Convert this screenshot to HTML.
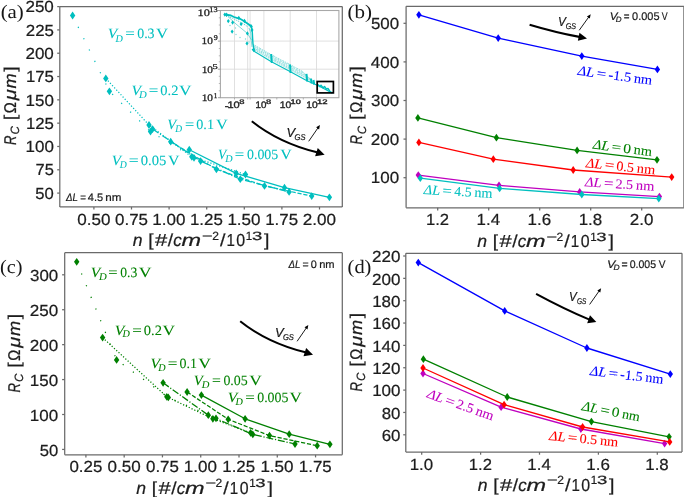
<!DOCTYPE html>
<html><head><meta charset="utf-8"><style>
html,body{margin:0;padding:0;background:#fff;width:685px;height:497px;overflow:hidden}
svg{display:block;will-change:transform}
text{text-rendering:geometricPrecision}
.t{stroke:#1c1c1c;stroke-width:0.22px}
</style></head><body>
<svg width="685" height="497" viewBox="0 0 685 497">
<defs><filter id="bl" x="0" y="0" width="1" height="1"><feGaussianBlur stdDeviation="0.35"/></filter></defs>
<rect width="685" height="497" fill="#fff"/>
<g filter="url(#bl)">
<polyline points="418.90,14.80 498.20,38.10 581.80,56.10 657.40,69.40" fill="none" stroke="#0000ff" stroke-width="1.35" stroke-linejoin="round" stroke-linecap="butt" />
<path d="M418.90,10.90L421.60,14.80L418.90,18.70L416.20,14.80Z" fill="#0000ff"/>
<path d="M498.20,34.20L500.90,38.10L498.20,42.00L495.50,38.10Z" fill="#0000ff"/>
<path d="M581.80,52.20L584.50,56.10L581.80,60.00L579.10,56.10Z" fill="#0000ff"/>
<path d="M657.40,65.50L660.10,69.40L657.40,73.30L654.70,69.40Z" fill="#0000ff"/>
<polyline points="417.90,117.90 496.40,137.70 577.10,150.40 657.00,159.80" fill="none" stroke="#008000" stroke-width="1.35" stroke-linejoin="round" stroke-linecap="butt" />
<path d="M417.90,114.00L420.60,117.90L417.90,121.80L415.20,117.90Z" fill="#008000"/>
<path d="M496.40,133.80L499.10,137.70L496.40,141.60L493.70,137.70Z" fill="#008000"/>
<path d="M577.10,146.50L579.80,150.40L577.10,154.30L574.40,150.40Z" fill="#008000"/>
<path d="M657.00,155.90L659.70,159.80L657.00,163.70L654.30,159.80Z" fill="#008000"/>
<polyline points="418.90,142.40 493.30,159.20 573.20,170.00 671.70,177.10" fill="none" stroke="#ff0000" stroke-width="1.35" stroke-linejoin="round" stroke-linecap="butt" />
<path d="M418.90,138.50L421.60,142.40L418.90,146.30L416.20,142.40Z" fill="#ff0000"/>
<path d="M493.30,155.30L496.00,159.20L493.30,163.10L490.60,159.20Z" fill="#ff0000"/>
<path d="M573.20,166.10L575.90,170.00L573.20,173.90L570.50,170.00Z" fill="#ff0000"/>
<path d="M671.70,173.20L674.40,177.10L671.70,181.00L669.00,177.10Z" fill="#ff0000"/>
<polyline points="418.30,175.10 499.00,185.30 579.70,191.90 659.40,196.60" fill="none" stroke="#bf00bf" stroke-width="1.35" stroke-linejoin="round" stroke-linecap="butt" />
<path d="M418.30,171.20L421.00,175.10L418.30,179.00L415.60,175.10Z" fill="#bf00bf"/>
<path d="M499.00,181.40L501.70,185.30L499.00,189.20L496.30,185.30Z" fill="#bf00bf"/>
<path d="M579.70,188.00L582.40,191.90L579.70,195.80L577.00,191.90Z" fill="#bf00bf"/>
<path d="M659.40,192.70L662.10,196.60L659.40,200.50L656.70,196.60Z" fill="#bf00bf"/>
<polyline points="420.30,178.20 499.60,188.40 581.80,194.50 658.80,198.60" fill="none" stroke="#00bfbf" stroke-width="1.35" stroke-linejoin="round" stroke-linecap="butt" />
<path d="M420.30,174.30L423.00,178.20L420.30,182.10L417.60,178.20Z" fill="#00bfbf"/>
<path d="M499.60,184.50L502.30,188.40L499.60,192.30L496.90,188.40Z" fill="#00bfbf"/>
<path d="M581.80,190.60L584.50,194.50L581.80,198.40L579.10,194.50Z" fill="#00bfbf"/>
<path d="M658.80,194.70L661.50,198.60L658.80,202.50L656.10,198.60Z" fill="#00bfbf"/>
<g transform="translate(576.90,74.80) rotate(7.645)"><text x="0.48" y="0" font-family='"Liberation Serif", serif' font-size="13.6" fill="#0000ff" stroke="#0000ff" stroke-width="0.08" textLength="16.67" lengthAdjust="spacingAndGlyphs"><tspan font-style="italic" font-size="13.60">ΔL</tspan></text></g>
<g transform="translate(597.13,77.52) rotate(7.645)"><text x="-0.84" y="0" font-family='"Liberation Serif", serif' font-size="13.6" fill="#0000ff" stroke="#0000ff" stroke-width="0.08" textLength="9.55" lengthAdjust="spacingAndGlyphs"><tspan font-style="normal" font-size="13.60">=</tspan></text></g>
<g transform="translate(608.44,79.03) rotate(7.645)"><text x="-0.53" y="0" font-family='"Liberation Serif", serif' font-size="13.6" fill="#0000ff" stroke="#0000ff" stroke-width="0.08" textLength="22.82" lengthAdjust="spacingAndGlyphs"><tspan font-style="normal" font-size="13.60">-1.5</tspan></text></g>
<g transform="translate(633.78,82.43) rotate(7.645)"><text x="-0.33" y="0" font-family='"Liberation Serif", serif' font-size="13.6" fill="#0000ff" stroke="#0000ff" stroke-width="0.08" textLength="18.34" lengthAdjust="spacingAndGlyphs"><tspan font-style="normal" font-size="13.60">nm</tspan></text></g>
<g transform="translate(592.00,148.50) rotate(7.220)"><text x="0.48" y="0" font-family='"Liberation Serif", serif' font-size="13.6" fill="#008000" stroke="#008000" stroke-width="0.08" textLength="16.55" lengthAdjust="spacingAndGlyphs"><tspan font-style="italic" font-size="13.60">ΔL</tspan></text></g>
<g transform="translate(612.10,151.05) rotate(7.220)"><text x="-0.84" y="0" font-family='"Liberation Serif", serif' font-size="13.6" fill="#008000" stroke="#008000" stroke-width="0.08" textLength="9.48" lengthAdjust="spacingAndGlyphs"><tspan font-style="normal" font-size="13.60">=</tspan></text></g>
<g transform="translate(623.34,152.47) rotate(7.220)"><text x="-0.59" y="0" font-family='"Liberation Serif", serif' font-size="13.6" fill="#008000" stroke="#008000" stroke-width="0.08" textLength="7.81" lengthAdjust="spacingAndGlyphs"><tspan font-style="normal" font-size="13.60">0</tspan></text></g>
<g transform="translate(633.69,153.78) rotate(7.220)"><text x="-0.33" y="0" font-family='"Liberation Serif", serif' font-size="13.6" fill="#008000" stroke="#008000" stroke-width="0.08" textLength="18.20" lengthAdjust="spacingAndGlyphs"><tspan font-style="normal" font-size="13.60">nm</tspan></text></g>
<g transform="translate(585.00,167.10) rotate(5.915)"><text x="0.48" y="0" font-family='"Liberation Serif", serif' font-size="13.6" fill="#ff0000" stroke="#ff0000" stroke-width="0.08" textLength="16.64" lengthAdjust="spacingAndGlyphs"><tspan font-style="italic" font-size="13.60">ΔL</tspan></text></g>
<g transform="translate(605.26,169.20) rotate(5.915)"><text x="-0.84" y="0" font-family='"Liberation Serif", serif' font-size="13.6" fill="#ff0000" stroke="#ff0000" stroke-width="0.08" textLength="9.53" lengthAdjust="spacingAndGlyphs"><tspan font-style="normal" font-size="13.60">=</tspan></text></g>
<g transform="translate(616.59,170.37) rotate(5.915)"><text x="-0.54" y="0" font-family='"Liberation Serif", serif' font-size="13.6" fill="#ff0000" stroke="#ff0000" stroke-width="0.08" textLength="17.62" lengthAdjust="spacingAndGlyphs"><tspan font-style="normal" font-size="13.60">0.5</tspan></text></g>
<g transform="translate(636.85,172.47) rotate(5.915)"><text x="-0.33" y="0" font-family='"Liberation Serif", serif' font-size="13.6" fill="#ff0000" stroke="#ff0000" stroke-width="0.08" textLength="18.30" lengthAdjust="spacingAndGlyphs"><tspan font-style="normal" font-size="13.60">nm</tspan></text></g>
<g transform="translate(584.20,186.20) rotate(3.612)"><text x="0.48" y="0" font-family='"Liberation Serif", serif' font-size="13.6" fill="#bf00bf" stroke="#bf00bf" stroke-width="0.08" textLength="16.66" lengthAdjust="spacingAndGlyphs"><tspan font-style="italic" font-size="13.60">ΔL</tspan></text></g>
<g transform="translate(604.55,187.48) rotate(3.612)"><text x="-0.84" y="0" font-family='"Liberation Serif", serif' font-size="13.6" fill="#bf00bf" stroke="#bf00bf" stroke-width="0.08" textLength="9.54" lengthAdjust="spacingAndGlyphs"><tspan font-style="normal" font-size="13.60">=</tspan></text></g>
<g transform="translate(615.93,188.20) rotate(3.612)"><text x="-0.62" y="0" font-family='"Liberation Serif", serif' font-size="13.6" fill="#bf00bf" stroke="#bf00bf" stroke-width="0.08" textLength="17.62" lengthAdjust="spacingAndGlyphs"><tspan font-style="normal" font-size="13.60">2.5</tspan></text></g>
<g transform="translate(636.17,189.48) rotate(3.612)"><text x="-0.33" y="0" font-family='"Liberation Serif", serif' font-size="13.6" fill="#bf00bf" stroke="#bf00bf" stroke-width="0.08" textLength="18.32" lengthAdjust="spacingAndGlyphs"><tspan font-style="normal" font-size="13.60">nm</tspan></text></g>
<g transform="translate(423.10,193.90) rotate(3.323)"><text x="0.48" y="0" font-family='"Liberation Serif", serif' font-size="13.6" fill="#00bfbf" stroke="#00bfbf" stroke-width="0.08" textLength="16.37" lengthAdjust="spacingAndGlyphs"><tspan font-style="italic" font-size="13.60">ΔL</tspan></text></g>
<g transform="translate(443.10,195.06) rotate(3.323)"><text x="-0.83" y="0" font-family='"Liberation Serif", serif' font-size="13.6" fill="#00bfbf" stroke="#00bfbf" stroke-width="0.08" textLength="9.37" lengthAdjust="spacingAndGlyphs"><tspan font-style="normal" font-size="13.60">=</tspan></text></g>
<g transform="translate(454.28,195.71) rotate(3.323)"><text x="-0.27" y="0" font-family='"Liberation Serif", serif' font-size="13.6" fill="#00bfbf" stroke="#00bfbf" stroke-width="0.08" textLength="17.37" lengthAdjust="spacingAndGlyphs"><tspan font-style="normal" font-size="13.60">4.5</tspan></text></g>
<g transform="translate(474.58,196.89) rotate(3.323)"><text x="-0.32" y="0" font-family='"Liberation Serif", serif' font-size="13.6" fill="#00bfbf" stroke="#00bfbf" stroke-width="0.08" textLength="18.00" lengthAdjust="spacingAndGlyphs"><tspan font-style="normal" font-size="13.60">nm</tspan></text></g>
<path d="M529.60,24.70 Q555.40,32.40 579.40,36.90" fill="none" stroke="#000" stroke-width="2.1"/>
<path d="M587.00,38.40 L577.87,40.78 L579.45,32.73 Z" fill="#000"/>
<line x1="579.20" y1="30.30" x2="588.83" y2="16.90" stroke="#000" stroke-width="0.9"/>
<path d="M590.70,14.30 L589.83,18.60 L586.90,16.50 Z" fill="#000"/>
<g transform="translate(558.90,25.60) rotate(0.000)"><text x="-1.02" y="0" font-family='"Liberation Sans", sans-serif' font-size="13.0" fill="#1a1a1a" stroke="#1a1a1a" stroke-width="0.2" textLength="7.90" lengthAdjust="spacingAndGlyphs"><tspan font-style="italic" font-size="13.00">V</tspan></text></g>
<g transform="translate(566.00,28.60) rotate(0.000)"><text x="-0.35" y="0" font-family='"Liberation Sans", sans-serif' font-size="8.4" fill="#1a1a1a" stroke="#1a1a1a" stroke-width="0.2" textLength="10.33" lengthAdjust="spacingAndGlyphs"><tspan font-style="italic" font-size="8.40">GS</tspan></text></g>
<g transform="translate(610.80,19.80) rotate(0.000)"><text x="-1.01" y="0" font-family='"Liberation Sans", sans-serif' font-size="11.0" fill="#1a1a1a" stroke="#1a1a1a" stroke-width="0.2" textLength="7.80" lengthAdjust="spacingAndGlyphs"><tspan font-style="italic" font-size="11.00">V</tspan></text></g>
<g transform="translate(616.10,22.30) rotate(0.000)"><text x="-0.25" y="0" font-family='"Liberation Sans", sans-serif' font-size="7.699999999999999" fill="#1a1a1a" stroke="#1a1a1a" stroke-width="0.2" textLength="5.81" lengthAdjust="spacingAndGlyphs"><tspan font-style="italic" font-size="7.70">D</tspan></text></g>
<g transform="translate(624.30,19.80) rotate(0.000)"><text x="-0.48" y="0" font-family='"Liberation Sans", sans-serif' font-size="11.0" fill="#1a1a1a" stroke="#1a1a1a" stroke-width="0.2" textLength="5.77" lengthAdjust="spacingAndGlyphs"><tspan font-style="normal" font-size="11.00">=</tspan></text></g>
<g transform="translate(632.50,19.80) rotate(0.000)"><text x="-0.43" y="0" font-family='"Liberation Sans", sans-serif' font-size="11.0" fill="#1a1a1a" stroke="#1a1a1a" stroke-width="0.2" textLength="27.39" lengthAdjust="spacingAndGlyphs"><tspan font-style="normal" font-size="11.00">0.005</tspan></text></g>
<g transform="translate(661.90,19.80) rotate(0.000)"><text x="-0.04" y="0" font-family='"Liberation Sans", sans-serif' font-size="11.0" fill="#1a1a1a" stroke="#1a1a1a" stroke-width="0.2" textLength="5.88" lengthAdjust="spacingAndGlyphs"><tspan font-style="normal" font-size="11.00">V</tspan></text></g>
<g transform="translate(608.10,267.60) rotate(0.000)"><text x="-1.08" y="0" font-family='"Liberation Sans", sans-serif' font-size="11.0" fill="#1a1a1a" stroke="#1a1a1a" stroke-width="0.2" textLength="8.31" lengthAdjust="spacingAndGlyphs"><tspan font-style="italic" font-size="11.00">V</tspan></text></g>
<g transform="translate(613.80,269.60) rotate(0.000)"><text x="-0.26" y="0" font-family='"Liberation Sans", sans-serif' font-size="7.699999999999999" fill="#1a1a1a" stroke="#1a1a1a" stroke-width="0.2" textLength="6.14" lengthAdjust="spacingAndGlyphs"><tspan font-style="italic" font-size="7.70">D</tspan></text></g>
<g transform="translate(621.90,267.60) rotate(0.000)"><text x="-0.51" y="0" font-family='"Liberation Sans", sans-serif' font-size="11.0" fill="#1a1a1a" stroke="#1a1a1a" stroke-width="0.2" textLength="6.13" lengthAdjust="spacingAndGlyphs"><tspan font-style="normal" font-size="11.00">=</tspan></text></g>
<g transform="translate(630.10,267.60) rotate(0.000)"><text x="-0.41" y="0" font-family='"Liberation Sans", sans-serif' font-size="11.0" fill="#1a1a1a" stroke="#1a1a1a" stroke-width="0.2" textLength="26.35" lengthAdjust="spacingAndGlyphs"><tspan font-style="normal" font-size="11.00">0.005</tspan></text></g>
<g transform="translate(658.70,267.60) rotate(0.000)"><text x="-0.04" y="0" font-family='"Liberation Sans", sans-serif' font-size="11.0" fill="#1a1a1a" stroke="#1a1a1a" stroke-width="0.2" textLength="6.79" lengthAdjust="spacingAndGlyphs"><tspan font-style="normal" font-size="11.00">V</tspan></text></g>
<polyline points="418.30,262.60 504.70,310.90 586.90,348.00 670.30,374.10" fill="none" stroke="#0000ff" stroke-width="1.35" stroke-linejoin="round" stroke-linecap="butt" />
<path d="M418.30,258.70L421.00,262.60L418.30,266.50L415.60,262.60Z" fill="#0000ff"/>
<path d="M504.70,307.00L507.40,310.90L504.70,314.80L502.00,310.90Z" fill="#0000ff"/>
<path d="M586.90,344.10L589.60,348.00L586.90,351.90L584.20,348.00Z" fill="#0000ff"/>
<path d="M670.30,370.20L673.00,374.10L670.30,378.00L667.60,374.10Z" fill="#0000ff"/>
<polyline points="423.40,359.20 507.20,397.00 591.40,421.60 669.10,436.80" fill="none" stroke="#008000" stroke-width="1.35" stroke-linejoin="round" stroke-linecap="butt" />
<path d="M423.40,355.30L426.10,359.20L423.40,363.10L420.70,359.20Z" fill="#008000"/>
<path d="M507.20,393.10L509.90,397.00L507.20,400.90L504.50,397.00Z" fill="#008000"/>
<path d="M591.40,417.70L594.10,421.60L591.40,425.50L588.70,421.60Z" fill="#008000"/>
<path d="M669.10,432.90L671.80,436.80L669.10,440.70L666.40,436.80Z" fill="#008000"/>
<polyline points="423.00,373.50 501.10,407.20 580.90,429.00 664.60,443.60" fill="none" stroke="#bf00bf" stroke-width="1.35" stroke-linejoin="round" stroke-linecap="butt" />
<path d="M423.00,369.60L425.70,373.50L423.00,377.40L420.30,373.50Z" fill="#bf00bf"/>
<path d="M501.10,403.30L503.80,407.20L501.10,411.10L498.40,407.20Z" fill="#bf00bf"/>
<path d="M580.90,425.10L583.60,429.00L580.90,432.90L578.20,429.00Z" fill="#bf00bf"/>
<path d="M664.60,439.70L667.30,443.60L664.60,447.50L661.90,443.60Z" fill="#bf00bf"/>
<polyline points="423.00,368.00 504.10,404.70 582.60,427.00 669.70,441.90" fill="none" stroke="#ff0000" stroke-width="1.35" stroke-linejoin="round" stroke-linecap="butt" />
<path d="M423.00,364.10L425.70,368.00L423.00,371.90L420.30,368.00Z" fill="#ff0000"/>
<path d="M504.10,400.80L506.80,404.70L504.10,408.60L501.40,404.70Z" fill="#ff0000"/>
<path d="M582.60,423.10L585.30,427.00L582.60,430.90L579.90,427.00Z" fill="#ff0000"/>
<path d="M669.70,438.00L672.40,441.90L669.70,445.80L667.00,441.90Z" fill="#ff0000"/>
<g transform="translate(589.10,374.90) rotate(6.818)"><text x="0.48" y="0" font-family='"Liberation Serif", serif' font-size="13.6" fill="#0000ff" stroke="#0000ff" stroke-width="0.08" textLength="16.44" lengthAdjust="spacingAndGlyphs"><tspan font-style="italic" font-size="13.60">ΔL</tspan></text></g>
<g transform="translate(609.08,377.29) rotate(6.818)"><text x="-0.83" y="0" font-family='"Liberation Serif", serif' font-size="13.6" fill="#0000ff" stroke="#0000ff" stroke-width="0.08" textLength="9.42" lengthAdjust="spacingAndGlyphs"><tspan font-style="normal" font-size="13.60">=</tspan></text></g>
<g transform="translate(620.26,378.63) rotate(6.818)"><text x="-0.53" y="0" font-family='"Liberation Serif", serif' font-size="13.6" fill="#0000ff" stroke="#0000ff" stroke-width="0.08" textLength="22.50" lengthAdjust="spacingAndGlyphs"><tspan font-style="normal" font-size="13.60">-1.5</tspan></text></g>
<g transform="translate(645.29,381.62) rotate(6.818)"><text x="-0.32" y="0" font-family='"Liberation Serif", serif' font-size="13.6" fill="#0000ff" stroke="#0000ff" stroke-width="0.08" textLength="18.08" lengthAdjust="spacingAndGlyphs"><tspan font-style="normal" font-size="13.60">nm</tspan></text></g>
<g transform="translate(580.80,410.00) rotate(11.006)"><text x="0.48" y="0" font-family='"Liberation Serif", serif' font-size="13.6" fill="#008000" stroke="#008000" stroke-width="0.08" textLength="16.42" lengthAdjust="spacingAndGlyphs"><tspan font-style="italic" font-size="13.60">ΔL</tspan></text></g>
<g transform="translate(600.52,413.84) rotate(11.006)"><text x="-0.83" y="0" font-family='"Liberation Serif", serif' font-size="13.6" fill="#008000" stroke="#008000" stroke-width="0.08" textLength="9.40" lengthAdjust="spacingAndGlyphs"><tspan font-style="normal" font-size="13.60">=</tspan></text></g>
<g transform="translate(611.56,415.98) rotate(11.006)"><text x="-0.59" y="0" font-family='"Liberation Serif", serif' font-size="13.6" fill="#008000" stroke="#008000" stroke-width="0.08" textLength="7.75" lengthAdjust="spacingAndGlyphs"><tspan font-style="normal" font-size="13.60">0</tspan></text></g>
<g transform="translate(621.71,417.96) rotate(11.006)"><text x="-0.32" y="0" font-family='"Liberation Serif", serif' font-size="13.6" fill="#008000" stroke="#008000" stroke-width="0.08" textLength="18.05" lengthAdjust="spacingAndGlyphs"><tspan font-style="normal" font-size="13.60">nm</tspan></text></g>
<g transform="translate(548.20,439.90) rotate(5.433)"><text x="0.48" y="0" font-family='"Liberation Serif", serif' font-size="13.6" fill="#ff0000" stroke="#ff0000" stroke-width="0.08" textLength="16.60" lengthAdjust="spacingAndGlyphs"><tspan font-style="italic" font-size="13.60">ΔL</tspan></text></g>
<g transform="translate(568.43,441.82) rotate(5.433)"><text x="-0.84" y="0" font-family='"Liberation Serif", serif' font-size="13.6" fill="#ff0000" stroke="#ff0000" stroke-width="0.08" textLength="9.51" lengthAdjust="spacingAndGlyphs"><tspan font-style="normal" font-size="13.60">=</tspan></text></g>
<g transform="translate(579.75,442.90) rotate(5.433)"><text x="-0.54" y="0" font-family='"Liberation Serif", serif' font-size="13.6" fill="#ff0000" stroke="#ff0000" stroke-width="0.08" textLength="17.58" lengthAdjust="spacingAndGlyphs"><tspan font-style="normal" font-size="13.60">0.5</tspan></text></g>
<g transform="translate(599.97,444.82) rotate(5.433)"><text x="-0.33" y="0" font-family='"Liberation Serif", serif' font-size="13.6" fill="#ff0000" stroke="#ff0000" stroke-width="0.08" textLength="18.26" lengthAdjust="spacingAndGlyphs"><tspan font-style="normal" font-size="13.60">nm</tspan></text></g>
<g transform="translate(425.80,397.10) rotate(19.522)"><text x="0.49" y="0" font-family='"Liberation Serif", serif' font-size="13.6" fill="#bf00bf" stroke="#bf00bf" stroke-width="0.08" textLength="16.70" lengthAdjust="spacingAndGlyphs"><tspan font-style="italic" font-size="13.60">ΔL</tspan></text></g>
<g transform="translate(445.07,403.93) rotate(19.522)"><text x="-0.84" y="0" font-family='"Liberation Serif", serif' font-size="13.6" fill="#bf00bf" stroke="#bf00bf" stroke-width="0.08" textLength="9.57" lengthAdjust="spacingAndGlyphs"><tspan font-style="normal" font-size="13.60">=</tspan></text></g>
<g transform="translate(455.84,407.75) rotate(19.522)"><text x="-0.62" y="0" font-family='"Liberation Serif", serif' font-size="13.6" fill="#bf00bf" stroke="#bf00bf" stroke-width="0.08" textLength="17.67" lengthAdjust="spacingAndGlyphs"><tspan font-style="normal" font-size="13.60">2.5</tspan></text></g>
<g transform="translate(475.01,414.55) rotate(19.522)"><text x="-0.33" y="0" font-family='"Liberation Serif", serif' font-size="13.6" fill="#bf00bf" stroke="#bf00bf" stroke-width="0.08" textLength="18.36" lengthAdjust="spacingAndGlyphs"><tspan font-style="normal" font-size="13.60">nm</tspan></text></g>
<path d="M536.10,293.80 Q564.20,309.00 589.50,319.60" fill="none" stroke="#000" stroke-width="2.1"/>
<path d="M596.30,322.00 L587.17,323.23 L589.97,315.31 Z" fill="#000"/>
<line x1="589.60" y1="304.50" x2="599.26" y2="290.81" stroke="#000" stroke-width="0.9"/>
<path d="M601.10,288.20 L600.26,292.51 L597.32,290.43 Z" fill="#000"/>
<g transform="translate(570.00,300.60) rotate(0.000)"><text x="-1.00" y="0" font-family='"Liberation Sans", sans-serif' font-size="13.0" fill="#1a1a1a" stroke="#1a1a1a" stroke-width="0.2" textLength="7.70" lengthAdjust="spacingAndGlyphs"><tspan font-style="italic" font-size="13.00">V</tspan></text></g>
<g transform="translate(577.30,303.70) rotate(0.000)"><text x="-0.32" y="0" font-family='"Liberation Sans", sans-serif' font-size="8.4" fill="#1a1a1a" stroke="#1a1a1a" stroke-width="0.2" textLength="9.39" lengthAdjust="spacingAndGlyphs"><tspan font-style="italic" font-size="8.40">GS</tspan></text></g>
<polyline points="72.60,15.50 109.40,91.30 150.50,131.60 194.00,157.80" fill="none" stroke="#00bfbf" stroke-width="1.25" stroke-linejoin="round" stroke-linecap="butt" stroke-dasharray="1.2 11.4" />
<polyline points="105.80,78.40 149.00,125.00 191.80,156.80 245.50,174.50" fill="none" stroke="#00bfbf" stroke-width="1.25" stroke-linejoin="round" stroke-linecap="butt" stroke-dasharray="1.2 1.9" />
<polyline points="152.60,129.10 200.60,161.10 240.30,179.20 289.10,191.90" fill="none" stroke="#00bfbf" stroke-width="1.25" stroke-linejoin="round" stroke-linecap="butt" stroke-dasharray="7.0 1.8 1.2 1.8" />
<polyline points="170.70,141.70 216.40,169.30 264.50,185.90 311.70,196.10" fill="none" stroke="#00bfbf" stroke-width="1.25" stroke-linejoin="round" stroke-linecap="butt" stroke-dasharray="4.2 1.8" />
<polyline points="189.30,149.70 236.20,173.40 284.50,187.70 329.40,197.30" fill="none" stroke="#00bfbf" stroke-width="1.25" stroke-linejoin="round" stroke-linecap="butt" />
<path d="M72.60,11.60L75.30,15.50L72.60,19.40L69.90,15.50Z" fill="#00bfbf"/>
<path d="M109.40,87.40L112.10,91.30L109.40,95.20L106.70,91.30Z" fill="#00bfbf"/>
<path d="M150.50,127.70L153.20,131.60L150.50,135.50L147.80,131.60Z" fill="#00bfbf"/>
<path d="M194.00,153.90L196.70,157.80L194.00,161.70L191.30,157.80Z" fill="#00bfbf"/>
<path d="M105.80,74.50L108.50,78.40L105.80,82.30L103.10,78.40Z" fill="#00bfbf"/>
<path d="M149.00,121.10L151.70,125.00L149.00,128.90L146.30,125.00Z" fill="#00bfbf"/>
<path d="M191.80,152.90L194.50,156.80L191.80,160.70L189.10,156.80Z" fill="#00bfbf"/>
<path d="M245.50,170.60L248.20,174.50L245.50,178.40L242.80,174.50Z" fill="#00bfbf"/>
<path d="M152.60,125.20L155.30,129.10L152.60,133.00L149.90,129.10Z" fill="#00bfbf"/>
<path d="M200.60,157.20L203.30,161.10L200.60,165.00L197.90,161.10Z" fill="#00bfbf"/>
<path d="M240.30,175.30L243.00,179.20L240.30,183.10L237.60,179.20Z" fill="#00bfbf"/>
<path d="M289.10,188.00L291.80,191.90L289.10,195.80L286.40,191.90Z" fill="#00bfbf"/>
<path d="M170.70,137.80L173.40,141.70L170.70,145.60L168.00,141.70Z" fill="#00bfbf"/>
<path d="M216.40,165.40L219.10,169.30L216.40,173.20L213.70,169.30Z" fill="#00bfbf"/>
<path d="M264.50,182.00L267.20,185.90L264.50,189.80L261.80,185.90Z" fill="#00bfbf"/>
<path d="M311.70,192.20L314.40,196.10L311.70,200.00L309.00,196.10Z" fill="#00bfbf"/>
<path d="M189.30,145.80L192.00,149.70L189.30,153.60L186.60,149.70Z" fill="#00bfbf"/>
<path d="M236.20,169.50L238.90,173.40L236.20,177.30L233.50,173.40Z" fill="#00bfbf"/>
<path d="M284.50,183.80L287.20,187.70L284.50,191.60L281.80,187.70Z" fill="#00bfbf"/>
<path d="M329.40,193.40L332.10,197.30L329.40,201.20L326.70,197.30Z" fill="#00bfbf"/>
<g transform="translate(108.50,38.30) rotate(0.000)"><text x="-0.81" y="0" font-family='"Liberation Serif", serif' font-size="14.2" fill="#00bfbf" stroke="#00bfbf" stroke-width="0.08" textLength="9.52" lengthAdjust="spacingAndGlyphs"><tspan font-style="italic" font-size="14.20">V</tspan></text></g>
<g transform="translate(115.30,41.50) rotate(0.000)"><text x="0.11" y="0" font-family='"Liberation Serif", serif' font-size="10.223999999999998" fill="#00bfbf" stroke="#00bfbf" stroke-width="0.06" textLength="7.34" lengthAdjust="spacingAndGlyphs"><tspan font-style="italic" font-size="10.22">D</tspan></text></g>
<g transform="translate(126.00,38.30) rotate(0.000)"><text x="-0.85" y="0" font-family='"Liberation Serif", serif' font-size="14.2" fill="#00bfbf" stroke="#00bfbf" stroke-width="0.08" textLength="9.57" lengthAdjust="spacingAndGlyphs"><tspan font-style="normal" font-size="14.20">=</tspan></text></g>
<g transform="translate(137.70,38.30) rotate(0.000)"><text x="-0.53" y="0" font-family='"Liberation Serif", serif' font-size="14.2" fill="#00bfbf" stroke="#00bfbf" stroke-width="0.08" textLength="17.37" lengthAdjust="spacingAndGlyphs"><tspan font-style="normal" font-size="14.20">0.3</tspan></text></g>
<g transform="translate(156.20,38.30) rotate(0.000)"><text x="-0.19" y="0" font-family='"Liberation Serif", serif' font-size="14.2" fill="#00bfbf" stroke="#00bfbf" stroke-width="0.08" textLength="12.08" lengthAdjust="spacingAndGlyphs"><tspan font-style="normal" font-size="14.20">V</tspan></text></g>
<g transform="translate(132.30,95.10) rotate(0.000)"><text x="-0.81" y="0" font-family='"Liberation Serif", serif' font-size="14.2" fill="#00bfbf" stroke="#00bfbf" stroke-width="0.08" textLength="9.52" lengthAdjust="spacingAndGlyphs"><tspan font-style="italic" font-size="14.20">V</tspan></text></g>
<g transform="translate(138.90,98.40) rotate(0.000)"><text x="0.12" y="0" font-family='"Liberation Serif", serif' font-size="10.223999999999998" fill="#00bfbf" stroke="#00bfbf" stroke-width="0.06" textLength="7.74" lengthAdjust="spacingAndGlyphs"><tspan font-style="italic" font-size="10.22">D</tspan></text></g>
<g transform="translate(149.50,95.10) rotate(0.000)"><text x="-0.85" y="0" font-family='"Liberation Serif", serif' font-size="14.2" fill="#00bfbf" stroke="#00bfbf" stroke-width="0.08" textLength="9.57" lengthAdjust="spacingAndGlyphs"><tspan font-style="normal" font-size="14.20">=</tspan></text></g>
<g transform="translate(160.80,95.10) rotate(0.000)"><text x="-0.55" y="0" font-family='"Liberation Serif", serif' font-size="14.2" fill="#00bfbf" stroke="#00bfbf" stroke-width="0.08" textLength="18.15" lengthAdjust="spacingAndGlyphs"><tspan font-style="normal" font-size="14.20">0.2</tspan></text></g>
<g transform="translate(179.30,95.10) rotate(0.000)"><text x="-0.19" y="0" font-family='"Liberation Serif", serif' font-size="14.2" fill="#00bfbf" stroke="#00bfbf" stroke-width="0.08" textLength="12.49" lengthAdjust="spacingAndGlyphs"><tspan font-style="normal" font-size="14.20">V</tspan></text></g>
<g transform="translate(167.90,128.90) rotate(0.000)"><text x="-0.77" y="0" font-family='"Liberation Serif", serif' font-size="14.2" fill="#00bfbf" stroke="#00bfbf" stroke-width="0.08" textLength="8.96" lengthAdjust="spacingAndGlyphs"><tspan font-style="italic" font-size="14.20">V</tspan></text></g>
<g transform="translate(175.20,132.10) rotate(0.000)"><text x="0.11" y="0" font-family='"Liberation Serif", serif' font-size="10.223999999999998" fill="#00bfbf" stroke="#00bfbf" stroke-width="0.06" textLength="6.84" lengthAdjust="spacingAndGlyphs"><tspan font-style="italic" font-size="10.22">D</tspan></text></g>
<g transform="translate(185.70,128.90) rotate(0.000)"><text x="-0.81" y="0" font-family='"Liberation Serif", serif' font-size="14.2" fill="#00bfbf" stroke="#00bfbf" stroke-width="0.08" textLength="9.21" lengthAdjust="spacingAndGlyphs"><tspan font-style="normal" font-size="14.20">=</tspan></text></g>
<g transform="translate(196.80,128.90) rotate(0.000)"><text x="-0.54" y="0" font-family='"Liberation Serif", serif' font-size="14.2" fill="#00bfbf" stroke="#00bfbf" stroke-width="0.08" textLength="17.69" lengthAdjust="spacingAndGlyphs"><tspan font-style="normal" font-size="14.20">0.1</tspan></text></g>
<g transform="translate(216.10,128.90) rotate(0.000)"><text x="-0.18" y="0" font-family='"Liberation Serif", serif' font-size="14.2" fill="#00bfbf" stroke="#00bfbf" stroke-width="0.08" textLength="11.77" lengthAdjust="spacingAndGlyphs"><tspan font-style="normal" font-size="14.20">V</tspan></text></g>
<g transform="translate(112.60,164.80) rotate(0.000)"><text x="-0.79" y="0" font-family='"Liberation Serif", serif' font-size="14.2" fill="#00bfbf" stroke="#00bfbf" stroke-width="0.08" textLength="9.24" lengthAdjust="spacingAndGlyphs"><tspan font-style="italic" font-size="14.20">V</tspan></text></g>
<g transform="translate(119.60,167.50) rotate(0.000)"><text x="0.11" y="0" font-family='"Liberation Serif", serif' font-size="10.223999999999998" fill="#00bfbf" stroke="#00bfbf" stroke-width="0.06" textLength="7.04" lengthAdjust="spacingAndGlyphs"><tspan font-style="italic" font-size="10.22">D</tspan></text></g>
<g transform="translate(129.50,164.80) rotate(0.000)"><text x="-0.88" y="0" font-family='"Liberation Serif", serif' font-size="14.2" fill="#00bfbf" stroke="#00bfbf" stroke-width="0.08" textLength="9.94" lengthAdjust="spacingAndGlyphs"><tspan font-style="normal" font-size="14.20">=</tspan></text></g>
<g transform="translate(141.20,164.80) rotate(0.000)"><text x="-0.56" y="0" font-family='"Liberation Serif", serif' font-size="14.2" fill="#00bfbf" stroke="#00bfbf" stroke-width="0.08" textLength="25.63" lengthAdjust="spacingAndGlyphs"><tspan font-style="normal" font-size="14.20">0.05</tspan></text></g>
<g transform="translate(168.10,164.80) rotate(0.000)"><text x="-0.18" y="0" font-family='"Liberation Serif", serif' font-size="14.2" fill="#00bfbf" stroke="#00bfbf" stroke-width="0.08" textLength="11.46" lengthAdjust="spacingAndGlyphs"><tspan font-style="normal" font-size="14.20">V</tspan></text></g>
<g transform="translate(218.60,159.20) rotate(0.000)"><text x="-0.71" y="0" font-family='"Liberation Serif", serif' font-size="14.2" fill="#00bfbf" stroke="#00bfbf" stroke-width="0.08" textLength="8.30" lengthAdjust="spacingAndGlyphs"><tspan font-style="italic" font-size="14.20">V</tspan></text></g>
<g transform="translate(225.10,162.30) rotate(0.000)"><text x="0.11" y="0" font-family='"Liberation Serif", serif' font-size="10.223999999999998" fill="#00bfbf" stroke="#00bfbf" stroke-width="0.06" textLength="7.34" lengthAdjust="spacingAndGlyphs"><tspan font-style="italic" font-size="10.22">D</tspan></text></g>
<g transform="translate(235.70,159.20) rotate(0.000)"><text x="-0.83" y="0" font-family='"Liberation Serif", serif' font-size="14.2" fill="#00bfbf" stroke="#00bfbf" stroke-width="0.08" textLength="9.45" lengthAdjust="spacingAndGlyphs"><tspan font-style="normal" font-size="14.20">=</tspan></text></g>
<g transform="translate(247.50,159.20) rotate(0.000)"><text x="-0.53" y="0" font-family='"Liberation Serif", serif' font-size="14.2" fill="#00bfbf" stroke="#00bfbf" stroke-width="0.08" textLength="31.27" lengthAdjust="spacingAndGlyphs"><tspan font-style="normal" font-size="14.20">0.005</tspan></text></g>
<g transform="translate(280.30,159.20) rotate(0.000)"><text x="-0.18" y="0" font-family='"Liberation Serif", serif' font-size="14.2" fill="#00bfbf" stroke="#00bfbf" stroke-width="0.08" textLength="11.56" lengthAdjust="spacingAndGlyphs"><tspan font-style="normal" font-size="14.20">V</tspan></text></g>
<path d="M251.80,121.20 Q278.70,142.70 317.00,152.30" fill="none" stroke="#000" stroke-width="2.1"/>
<path d="M324.60,154.80 L315.09,156.20 L317.77,148.03 Z" fill="#000"/>
<line x1="308.70" y1="141.30" x2="318.08" y2="127.73" stroke="#000" stroke-width="0.9"/>
<path d="M319.90,125.10 L319.11,129.41 L316.14,127.37 Z" fill="#000"/>
<g transform="translate(287.70,137.40) rotate(0.000)"><text x="-1.12" y="0" font-family='"Liberation Sans", sans-serif' font-size="13.0" fill="#1a1a1a" stroke="#1a1a1a" stroke-width="0.2" textLength="8.61" lengthAdjust="spacingAndGlyphs"><tspan font-style="italic" font-size="13.00">V</tspan></text></g>
<g transform="translate(294.90,140.30) rotate(0.000)"><text x="-0.37" y="0" font-family='"Liberation Sans", sans-serif' font-size="8.4" fill="#1a1a1a" stroke="#1a1a1a" stroke-width="0.2" textLength="10.96" lengthAdjust="spacingAndGlyphs"><tspan font-style="italic" font-size="8.40">GS</tspan></text></g>
<g transform="translate(65.70,201.00) rotate(0.000)"><text x="0.19" y="0" font-family='"Liberation Sans", sans-serif' font-size="10.8" fill="#1a1a1a" stroke="#1a1a1a" stroke-width="0.2" textLength="11.89" lengthAdjust="spacingAndGlyphs"><tspan font-style="italic" font-size="10.80">ΔL</tspan></text></g>
<g transform="translate(80.60,201.00) rotate(0.000)"><text x="-0.48" y="0" font-family='"Liberation Sans", sans-serif' font-size="10.8" fill="#1a1a1a" stroke="#1a1a1a" stroke-width="0.2" textLength="5.77" lengthAdjust="spacingAndGlyphs"><tspan font-style="normal" font-size="10.80">=</tspan></text></g>
<g transform="translate(88.00,201.00) rotate(0.000)"><text x="-0.25" y="0" font-family='"Liberation Sans", sans-serif' font-size="10.8" fill="#1a1a1a" stroke="#1a1a1a" stroke-width="0.2" textLength="15.32" lengthAdjust="spacingAndGlyphs"><tspan font-style="normal" font-size="10.80">4.5</tspan></text></g>
<g transform="translate(106.10,201.00) rotate(0.000)"><text x="-0.77" y="0" font-family='"Liberation Sans", sans-serif' font-size="10.8" fill="#1a1a1a" stroke="#1a1a1a" stroke-width="0.2" textLength="16.14" lengthAdjust="spacingAndGlyphs"><tspan font-style="normal" font-size="10.80">nm</tspan></text></g>
<polyline points="76.70,261.80 116.60,359.90 168.30,397.40 216.00,418.30" fill="none" stroke="#008000" stroke-width="1.25" stroke-linejoin="round" stroke-linecap="butt" stroke-dasharray="1.2 11.4" />
<polyline points="102.60,337.60 166.80,396.80 212.90,418.80 250.60,432.80" fill="none" stroke="#008000" stroke-width="1.25" stroke-linejoin="round" stroke-linecap="butt" stroke-dasharray="1.2 1.9" />
<polyline points="163.10,382.80 208.30,415.20 252.80,434.40 295.00,444.00" fill="none" stroke="#008000" stroke-width="1.25" stroke-linejoin="round" stroke-linecap="butt" stroke-dasharray="7.0 1.8 1.2 1.8" />
<polyline points="187.10,392.00 228.20,419.30 269.50,435.60 317.20,445.70" fill="none" stroke="#008000" stroke-width="1.25" stroke-linejoin="round" stroke-linecap="butt" stroke-dasharray="4.2 1.8" />
<polyline points="201.40,395.10 245.10,418.80 289.20,434.20 329.90,444.30" fill="none" stroke="#008000" stroke-width="1.25" stroke-linejoin="round" stroke-linecap="butt" />
<path d="M76.70,257.90L79.40,261.80L76.70,265.70L74.00,261.80Z" fill="#008000"/>
<path d="M116.60,356.00L119.30,359.90L116.60,363.80L113.90,359.90Z" fill="#008000"/>
<path d="M168.30,393.50L171.00,397.40L168.30,401.30L165.60,397.40Z" fill="#008000"/>
<path d="M216.00,414.40L218.70,418.30L216.00,422.20L213.30,418.30Z" fill="#008000"/>
<path d="M102.60,333.70L105.30,337.60L102.60,341.50L99.90,337.60Z" fill="#008000"/>
<path d="M166.80,392.90L169.50,396.80L166.80,400.70L164.10,396.80Z" fill="#008000"/>
<path d="M212.90,414.90L215.60,418.80L212.90,422.70L210.20,418.80Z" fill="#008000"/>
<path d="M250.60,428.90L253.30,432.80L250.60,436.70L247.90,432.80Z" fill="#008000"/>
<path d="M163.10,378.90L165.80,382.80L163.10,386.70L160.40,382.80Z" fill="#008000"/>
<path d="M208.30,411.30L211.00,415.20L208.30,419.10L205.60,415.20Z" fill="#008000"/>
<path d="M252.80,430.50L255.50,434.40L252.80,438.30L250.10,434.40Z" fill="#008000"/>
<path d="M295.00,440.10L297.70,444.00L295.00,447.90L292.30,444.00Z" fill="#008000"/>
<path d="M187.10,388.10L189.80,392.00L187.10,395.90L184.40,392.00Z" fill="#008000"/>
<path d="M228.20,415.40L230.90,419.30L228.20,423.20L225.50,419.30Z" fill="#008000"/>
<path d="M269.50,431.70L272.20,435.60L269.50,439.50L266.80,435.60Z" fill="#008000"/>
<path d="M317.20,441.80L319.90,445.70L317.20,449.60L314.50,445.70Z" fill="#008000"/>
<path d="M201.40,391.20L204.10,395.10L201.40,399.00L198.70,395.10Z" fill="#008000"/>
<path d="M245.10,414.90L247.80,418.80L245.10,422.70L242.40,418.80Z" fill="#008000"/>
<path d="M289.20,430.30L291.90,434.20L289.20,438.10L286.50,434.20Z" fill="#008000"/>
<path d="M329.90,440.40L332.60,444.30L329.90,448.20L327.20,444.30Z" fill="#008000"/>
<g transform="translate(91.60,276.50) rotate(0.000)"><text x="-0.81" y="0" font-family='"Liberation Serif", serif' font-size="14.2" fill="#008000" stroke="#008000" stroke-width="0.08" textLength="9.52" lengthAdjust="spacingAndGlyphs"><tspan font-style="italic" font-size="14.20">V</tspan></text></g>
<g transform="translate(98.90,279.90) rotate(0.000)"><text x="0.12" y="0" font-family='"Liberation Serif", serif' font-size="10.223999999999998" fill="#008000" stroke="#008000" stroke-width="0.06" textLength="7.74" lengthAdjust="spacingAndGlyphs"><tspan font-style="italic" font-size="10.22">D</tspan></text></g>
<g transform="translate(109.10,276.50) rotate(0.000)"><text x="-0.82" y="0" font-family='"Liberation Serif", serif' font-size="14.2" fill="#008000" stroke="#008000" stroke-width="0.08" textLength="9.33" lengthAdjust="spacingAndGlyphs"><tspan font-style="normal" font-size="14.20">=</tspan></text></g>
<g transform="translate(120.80,276.50) rotate(0.000)"><text x="-0.52" y="0" font-family='"Liberation Serif", serif' font-size="14.2" fill="#008000" stroke="#008000" stroke-width="0.08" textLength="17.05" lengthAdjust="spacingAndGlyphs"><tspan font-style="normal" font-size="14.20">0.3</tspan></text></g>
<g transform="translate(139.00,276.50) rotate(0.000)"><text x="-0.20" y="0" font-family='"Liberation Serif", serif' font-size="14.2" fill="#008000" stroke="#008000" stroke-width="0.08" textLength="12.80" lengthAdjust="spacingAndGlyphs"><tspan font-style="normal" font-size="14.20">V</tspan></text></g>
<g transform="translate(115.50,334.60) rotate(0.000)"><text x="-0.82" y="0" font-family='"Liberation Serif", serif' font-size="14.2" fill="#008000" stroke="#008000" stroke-width="0.08" textLength="9.61" lengthAdjust="spacingAndGlyphs"><tspan font-style="italic" font-size="14.20">V</tspan></text></g>
<g transform="translate(122.40,337.40) rotate(0.000)"><text x="0.11" y="0" font-family='"Liberation Serif", serif' font-size="10.223999999999998" fill="#008000" stroke="#008000" stroke-width="0.06" textLength="7.34" lengthAdjust="spacingAndGlyphs"><tspan font-style="italic" font-size="10.22">D</tspan></text></g>
<g transform="translate(133.10,334.60) rotate(0.000)"><text x="-0.85" y="0" font-family='"Liberation Serif", serif' font-size="14.2" fill="#008000" stroke="#008000" stroke-width="0.08" textLength="9.57" lengthAdjust="spacingAndGlyphs"><tspan font-style="normal" font-size="14.20">=</tspan></text></g>
<g transform="translate(144.30,334.60) rotate(0.000)"><text x="-0.55" y="0" font-family='"Liberation Serif", serif' font-size="14.2" fill="#008000" stroke="#008000" stroke-width="0.08" textLength="18.15" lengthAdjust="spacingAndGlyphs"><tspan font-style="normal" font-size="14.20">0.2</tspan></text></g>
<g transform="translate(162.80,334.60) rotate(0.000)"><text x="-0.20" y="0" font-family='"Liberation Serif", serif' font-size="14.2" fill="#008000" stroke="#008000" stroke-width="0.08" textLength="12.59" lengthAdjust="spacingAndGlyphs"><tspan font-style="normal" font-size="14.20">V</tspan></text></g>
<g transform="translate(151.40,367.60) rotate(0.000)"><text x="-0.81" y="0" font-family='"Liberation Serif", serif' font-size="14.2" fill="#008000" stroke="#008000" stroke-width="0.08" textLength="9.52" lengthAdjust="spacingAndGlyphs"><tspan font-style="italic" font-size="14.20">V</tspan></text></g>
<g transform="translate(158.20,370.60) rotate(0.000)"><text x="0.11" y="0" font-family='"Liberation Serif", serif' font-size="10.223999999999998" fill="#008000" stroke="#008000" stroke-width="0.06" textLength="7.34" lengthAdjust="spacingAndGlyphs"><tspan font-style="italic" font-size="10.22">D</tspan></text></g>
<g transform="translate(168.50,367.60) rotate(0.000)"><text x="-0.86" y="0" font-family='"Liberation Serif", serif' font-size="14.2" fill="#008000" stroke="#008000" stroke-width="0.08" textLength="9.70" lengthAdjust="spacingAndGlyphs"><tspan font-style="normal" font-size="14.20">=</tspan></text></g>
<g transform="translate(180.10,367.60) rotate(0.000)"><text x="-0.53" y="0" font-family='"Liberation Serif", serif' font-size="14.2" fill="#008000" stroke="#008000" stroke-width="0.08" textLength="17.47" lengthAdjust="spacingAndGlyphs"><tspan font-style="normal" font-size="14.20">0.1</tspan></text></g>
<g transform="translate(198.40,367.60) rotate(0.000)"><text x="-0.20" y="0" font-family='"Liberation Serif", serif' font-size="14.2" fill="#008000" stroke="#008000" stroke-width="0.08" textLength="12.80" lengthAdjust="spacingAndGlyphs"><tspan font-style="normal" font-size="14.20">V</tspan></text></g>
<g transform="translate(194.60,384.70) rotate(0.000)"><text x="-0.77" y="0" font-family='"Liberation Serif", serif' font-size="14.2" fill="#008000" stroke="#008000" stroke-width="0.08" textLength="9.05" lengthAdjust="spacingAndGlyphs"><tspan font-style="italic" font-size="14.20">V</tspan></text></g>
<g transform="translate(201.60,387.60) rotate(0.000)"><text x="0.12" y="0" font-family='"Liberation Serif", serif' font-size="10.223999999999998" fill="#008000" stroke="#008000" stroke-width="0.06" textLength="7.64" lengthAdjust="spacingAndGlyphs"><tspan font-style="italic" font-size="10.22">D</tspan></text></g>
<g transform="translate(212.70,384.70) rotate(0.000)"><text x="-0.78" y="0" font-family='"Liberation Serif", serif' font-size="14.2" fill="#008000" stroke="#008000" stroke-width="0.08" textLength="8.85" lengthAdjust="spacingAndGlyphs"><tspan font-style="normal" font-size="14.20">=</tspan></text></g>
<g transform="translate(223.90,384.70) rotate(0.000)"><text x="-0.53" y="0" font-family='"Liberation Serif", serif' font-size="14.2" fill="#008000" stroke="#008000" stroke-width="0.08" textLength="24.37" lengthAdjust="spacingAndGlyphs"><tspan font-style="normal" font-size="14.20">0.05</tspan></text></g>
<g transform="translate(249.50,384.70) rotate(0.000)"><text x="-0.20" y="0" font-family='"Liberation Serif", serif' font-size="14.2" fill="#008000" stroke="#008000" stroke-width="0.08" textLength="12.59" lengthAdjust="spacingAndGlyphs"><tspan font-style="normal" font-size="14.20">V</tspan></text></g>
<g transform="translate(228.50,402.20) rotate(0.000)"><text x="-0.81" y="0" font-family='"Liberation Serif", serif' font-size="14.2" fill="#008000" stroke="#008000" stroke-width="0.08" textLength="9.52" lengthAdjust="spacingAndGlyphs"><tspan font-style="italic" font-size="14.20">V</tspan></text></g>
<g transform="translate(235.30,405.30) rotate(0.000)"><text x="0.11" y="0" font-family='"Liberation Serif", serif' font-size="10.223999999999998" fill="#008000" stroke="#008000" stroke-width="0.06" textLength="7.34" lengthAdjust="spacingAndGlyphs"><tspan font-style="italic" font-size="10.22">D</tspan></text></g>
<g transform="translate(246.00,402.20) rotate(0.000)"><text x="-0.85" y="0" font-family='"Liberation Serif", serif' font-size="14.2" fill="#008000" stroke="#008000" stroke-width="0.08" textLength="9.57" lengthAdjust="spacingAndGlyphs"><tspan font-style="normal" font-size="14.20">=</tspan></text></g>
<g transform="translate(257.70,402.20) rotate(0.000)"><text x="-0.53" y="0" font-family='"Liberation Serif", serif' font-size="14.2" fill="#008000" stroke="#008000" stroke-width="0.08" textLength="31.27" lengthAdjust="spacingAndGlyphs"><tspan font-style="normal" font-size="14.20">0.005</tspan></text></g>
<g transform="translate(289.80,402.20) rotate(0.000)"><text x="-0.19" y="0" font-family='"Liberation Serif", serif' font-size="14.2" fill="#008000" stroke="#008000" stroke-width="0.08" textLength="12.39" lengthAdjust="spacingAndGlyphs"><tspan font-style="normal" font-size="14.20">V</tspan></text></g>
<path d="M240.20,321.20 Q267.10,342.70 305.40,352.30" fill="none" stroke="#000" stroke-width="2.1"/>
<path d="M313.00,354.80 L303.49,356.20 L306.17,348.03 Z" fill="#000"/>
<line x1="297.10" y1="341.30" x2="306.48" y2="327.73" stroke="#000" stroke-width="0.9"/>
<path d="M308.30,325.10 L307.51,329.41 L304.54,327.37 Z" fill="#000"/>
<g transform="translate(276.10,337.40) rotate(0.000)"><text x="-1.12" y="0" font-family='"Liberation Sans", sans-serif' font-size="13.0" fill="#1a1a1a" stroke="#1a1a1a" stroke-width="0.2" textLength="8.61" lengthAdjust="spacingAndGlyphs"><tspan font-style="italic" font-size="13.00">V</tspan></text></g>
<g transform="translate(283.30,340.30) rotate(0.000)"><text x="-0.37" y="0" font-family='"Liberation Sans", sans-serif' font-size="8.4" fill="#1a1a1a" stroke="#1a1a1a" stroke-width="0.2" textLength="10.96" lengthAdjust="spacingAndGlyphs"><tspan font-style="italic" font-size="8.40">GS</tspan></text></g>
<g transform="translate(288.30,267.90) rotate(0.000)"><text x="0.19" y="0" font-family='"Liberation Sans", sans-serif' font-size="10.8" fill="#1a1a1a" stroke="#1a1a1a" stroke-width="0.2" textLength="11.89" lengthAdjust="spacingAndGlyphs"><tspan font-style="italic" font-size="10.80">ΔL</tspan></text></g>
<g transform="translate(302.90,267.90) rotate(0.000)"><text x="-0.51" y="0" font-family='"Liberation Sans", sans-serif' font-size="10.8" fill="#1a1a1a" stroke="#1a1a1a" stroke-width="0.2" textLength="6.13" lengthAdjust="spacingAndGlyphs"><tspan font-style="normal" font-size="10.80">=</tspan></text></g>
<g transform="translate(311.10,267.90) rotate(0.000)"><text x="-0.42" y="0" font-family='"Liberation Sans", sans-serif' font-size="10.8" fill="#1a1a1a" stroke="#1a1a1a" stroke-width="0.2" textLength="6.05" lengthAdjust="spacingAndGlyphs"><tspan font-style="normal" font-size="10.80">0</tspan></text></g>
<g transform="translate(319.90,267.90) rotate(0.000)"><text x="-0.74" y="0" font-family='"Liberation Sans", sans-serif' font-size="10.8" fill="#1a1a1a" stroke="#1a1a1a" stroke-width="0.2" textLength="15.47" lengthAdjust="spacingAndGlyphs"><tspan font-style="normal" font-size="10.80">nm</tspan></text></g>
<line x1="234.5" y1="10.5" x2="234.5" y2="97.7" stroke="#dcdcdc" stroke-width="0.9"/>
<line x1="247.7" y1="10.5" x2="247.7" y2="97.7" stroke="#dcdcdc" stroke-width="0.9"/>
<line x1="250.1" y1="10.5" x2="250.1" y2="97.7" stroke="#dcdcdc" stroke-width="0.9"/>
<line x1="263.9" y1="10.5" x2="263.9" y2="97.7" stroke="#dcdcdc" stroke-width="0.9"/>
<line x1="290.2" y1="10.5" x2="290.2" y2="97.7" stroke="#dcdcdc" stroke-width="0.9"/>
<line x1="316.5" y1="10.5" x2="316.5" y2="97.7" stroke="#dcdcdc" stroke-width="0.9"/>
<line x1="220.4" y1="41.1" x2="338.9" y2="41.1" stroke="#dcdcdc" stroke-width="0.9"/>
<line x1="220.4" y1="69.2" x2="338.9" y2="69.2" stroke="#dcdcdc" stroke-width="0.9"/>
<polygon points="252.5,44.0 271.0,54.5 290.0,64.5 302.6,71.5 311.8,80.5 316.0,84.5 306.5,79.5 290.0,70.8 271.0,60.5 254.0,50.5" fill="#eefafa"/>
<polyline points="252.50,44.00 271.00,54.50 290.00,64.50 302.60,71.50 311.80,80.50" fill="none" stroke="#6fd3d3" stroke-width="0.75" stroke-dasharray="1.3 1.0 2.1 0.9" stroke-dashoffset="0"/>
<polyline points="252.80,45.30 271.00,55.70 290.00,65.76 303.38,73.10 312.64,81.30" fill="none" stroke="#6fd3d3" stroke-width="0.75" stroke-dasharray="1.8 1.2" stroke-dashoffset="1.7"/>
<polyline points="253.10,46.60 271.00,56.90 290.00,67.02 304.16,74.70 313.48,82.10" fill="none" stroke="#6fd3d3" stroke-width="0.75" stroke-dasharray="1.1 0.8 1.6 1.3" stroke-dashoffset="0.4"/>
<polyline points="253.40,47.90 271.00,58.10 290.00,68.28 304.94,76.30 314.32,82.90" fill="none" stroke="#6fd3d3" stroke-width="0.75" stroke-dasharray="2.0 1.1 1.2 0.9" stroke-dashoffset="2.2"/>
<polyline points="253.70,49.20 271.00,59.30 290.00,69.54 305.72,77.90 315.16,83.70" fill="none" stroke="#6fd3d3" stroke-width="0.75" stroke-dasharray="1.5 1.0" stroke-dashoffset="1.1"/>
<polyline points="252.00,49.00 254.50,51.50 271.00,61.50 290.00,71.50 306.50,80.50 320.00,86.50 332.00,93.00" fill="none" stroke="#00bfbf" stroke-width="1.1" stroke-linejoin="round" stroke-linecap="butt" />
<polyline points="318.00,84.50 320.00,86.80 321.00,85.20 323.00,87.80 324.50,86.50 326.50,89.20 328.00,88.50 330.00,91.50 332.50,93.20" fill="none" stroke="#00bfbf" stroke-width="1.4" stroke-linejoin="round" stroke-linecap="butt" />
<line x1="271.2" y1="54.0" x2="271.8" y2="63.0" stroke="#00bfbf" stroke-width="2.0"/>
<line x1="290.0" y1="64.5" x2="290.6" y2="73.0" stroke="#00bfbf" stroke-width="2.0"/>
<line x1="306.5" y1="73.8" x2="307.1" y2="81.5" stroke="#00bfbf" stroke-width="2.0"/>
<line x1="311.0" y1="78.5" x2="311.6" y2="83.5" stroke="#00bfbf" stroke-width="2.0"/>
<line x1="313.5" y1="80.0" x2="314.1" y2="84.5" stroke="#00bfbf" stroke-width="2.0"/>
<polyline points="249.50,24.50 251.50,27.00 252.30,32.00 252.60,38.00 253.00,44.00 254.00,50.50" fill="none" stroke="#00bfbf" stroke-width="1.4" stroke-linejoin="round" stroke-linecap="butt" />
<polyline points="249.00,28.00 250.80,33.00 251.20,40.00 252.00,47.00" fill="none" stroke="#5fd0d0" stroke-width="0.8" stroke-linejoin="round" stroke-linecap="butt" />
<polyline points="224.50,14.50 228.00,15.00 231.00,15.50 234.00,17.00 237.50,18.20 240.00,18.80 243.00,20.50 246.00,22.50 248.50,24.30 251.00,26.30" fill="none" stroke="#00bfbf" stroke-width="1.8" stroke-linejoin="round" stroke-linecap="butt" />
<polyline points="226.00,16.00 232.00,18.00 238.00,21.00 243.00,23.50 248.00,27.00" fill="none" stroke="#5fd0d0" stroke-width="1.0" stroke-linejoin="round" stroke-linecap="butt" stroke-dasharray="1.2 1.0" />
<polyline points="228.50,17.00 236.00,24.00 247.40,33.40 251.50,40.00" fill="none" stroke="#5fd0d0" stroke-width="0.8" stroke-linejoin="round" stroke-linecap="butt" />
<path d="M224.80,12.40L226.30,14.60L224.80,16.80L223.30,14.60Z" fill="#00bfbf"/>
<path d="M226.60,12.60L228.10,14.80L226.60,17.00L225.10,14.80Z" fill="#00bfbf"/>
<path d="M228.30,18.90L229.80,21.10L228.30,23.30L226.80,21.10Z" fill="#00bfbf"/>
<path d="M232.60,20.40L234.10,22.60L232.60,24.80L231.10,22.60Z" fill="#00bfbf"/>
<path d="M241.10,21.90L242.60,24.10L241.10,26.30L239.60,24.10Z" fill="#00bfbf"/>
<path d="M232.10,29.40L233.60,31.60L232.10,33.80L230.60,31.60Z" fill="#00bfbf"/>
<path d="M247.40,31.20L248.90,33.40L247.40,35.60L245.90,33.40Z" fill="#00bfbf"/>
<path d="M247.00,41.20L248.50,43.40L247.00,45.60L245.50,43.40Z" fill="#00bfbf"/>
<path d="M251.30,24.30L252.80,26.50L251.30,28.70L249.80,26.50Z" fill="#00bfbf"/>
<path d="M252.00,27.80L253.50,30.00L252.00,32.20L250.50,30.00Z" fill="#00bfbf"/>
<path d="M238.80,15.70L240.30,17.90L238.80,20.10L237.30,17.90Z" fill="#00bfbf"/>
<path d="M244.50,18.80L246.00,21.00L244.50,23.20L243.00,21.00Z" fill="#00bfbf"/>
<path d="M253.80,47.80L255.30,50.00L253.80,52.20L252.30,50.00Z" fill="#00bfbf"/>
<rect x="229.4" y="24.9" width="1.2" height="1.2" fill="#7fd8d8"/>
<rect x="235.4" y="33.9" width="1.2" height="1.2" fill="#7fd8d8"/>
<rect x="239.4" y="36.9" width="1.2" height="1.2" fill="#7fd8d8"/>
<rect x="244.9" y="38.4" width="1.2" height="1.2" fill="#7fd8d8"/>
<rect x="248.4" y="41.4" width="1.2" height="1.2" fill="#7fd8d8"/>
<rect x="234.9" y="27.4" width="1.2" height="1.2" fill="#7fd8d8"/>
<rect x="220.4" y="10.5" width="118.50" height="87.20" fill="none" stroke="#a8a8a8" stroke-width="1.1"/>
<line x1="218.8" y1="17.8" x2="220.4" y2="17.8" stroke="#a8a8a8" stroke-width="0.8"/>
<line x1="218.8" y1="25.0" x2="220.4" y2="25.0" stroke="#a8a8a8" stroke-width="0.8"/>
<line x1="218.8" y1="33.8" x2="220.4" y2="33.8" stroke="#a8a8a8" stroke-width="0.8"/>
<line x1="218.8" y1="48.5" x2="220.4" y2="48.5" stroke="#a8a8a8" stroke-width="0.8"/>
<line x1="218.8" y1="55.8" x2="220.4" y2="55.8" stroke="#a8a8a8" stroke-width="0.8"/>
<line x1="218.8" y1="61.8" x2="220.4" y2="61.8" stroke="#a8a8a8" stroke-width="0.8"/>
<line x1="218.8" y1="76.3" x2="220.4" y2="76.3" stroke="#a8a8a8" stroke-width="0.8"/>
<line x1="218.8" y1="83.5" x2="220.4" y2="83.5" stroke="#a8a8a8" stroke-width="0.8"/>
<line x1="218.8" y1="90.8" x2="220.4" y2="90.8" stroke="#a8a8a8" stroke-width="0.8"/>
<line x1="217.9" y1="10.5" x2="220.4" y2="10.5" stroke="#909090" stroke-width="0.9"/>
<line x1="217.9" y1="41.1" x2="220.4" y2="41.1" stroke="#909090" stroke-width="0.9"/>
<line x1="217.9" y1="69.2" x2="220.4" y2="69.2" stroke="#909090" stroke-width="0.9"/>
<line x1="217.9" y1="97.7" x2="220.4" y2="97.7" stroke="#909090" stroke-width="0.9"/>
<line x1="234.5" y1="97.7" x2="234.5" y2="99.5" stroke="#a0a0a0" stroke-width="0.8"/>
<line x1="247.7" y1="97.7" x2="247.7" y2="99.5" stroke="#a0a0a0" stroke-width="0.8"/>
<line x1="250.1" y1="97.7" x2="250.1" y2="99.5" stroke="#a0a0a0" stroke-width="0.8"/>
<line x1="263.9" y1="97.7" x2="263.9" y2="99.5" stroke="#a0a0a0" stroke-width="0.8"/>
<line x1="276.8" y1="97.7" x2="276.8" y2="99.5" stroke="#a0a0a0" stroke-width="0.8"/>
<line x1="290.2" y1="97.7" x2="290.2" y2="99.5" stroke="#a0a0a0" stroke-width="0.8"/>
<line x1="303.3" y1="97.7" x2="303.3" y2="99.5" stroke="#a0a0a0" stroke-width="0.8"/>
<line x1="316.5" y1="97.7" x2="316.5" y2="99.5" stroke="#a0a0a0" stroke-width="0.8"/>
<rect x="317.2" y="81.5" width="16.2" height="11.4" fill="none" stroke="#000" stroke-width="1.7"/>
<g transform="translate(198.70,16.00) rotate(0.000)"><text x="-1.08" y="0" font-family='"Liberation Serif", serif' font-size="10.0" fill="#262626" stroke="#262626" stroke-width="0.3" textLength="12.24" lengthAdjust="spacingAndGlyphs"><tspan font-style="normal" font-size="10.00">10</tspan></text></g>
<g transform="translate(210.00,12.40) rotate(0.000)"><text x="-0.73" y="0" font-family='"Liberation Serif", serif' font-size="7.4" fill="#262626" stroke="#262626" stroke-width="0.3" textLength="8.36" lengthAdjust="spacingAndGlyphs"><tspan font-style="normal" font-size="7.40">13</tspan></text></g>
<g transform="translate(202.60,44.30) rotate(0.000)"><text x="-1.00" y="0" font-family='"Liberation Serif", serif' font-size="10.0" fill="#262626" stroke="#262626" stroke-width="0.3" textLength="11.33" lengthAdjust="spacingAndGlyphs"><tspan font-style="normal" font-size="10.00">10</tspan></text></g>
<g transform="translate(214.00,40.30) rotate(0.000)"><text x="-0.26" y="0" font-family='"Liberation Serif", serif' font-size="7.4" fill="#262626" stroke="#262626" stroke-width="0.3" textLength="3.98" lengthAdjust="spacingAndGlyphs"><tspan font-style="normal" font-size="7.40">9</tspan></text></g>
<g transform="translate(202.70,72.90) rotate(0.000)"><text x="-1.00" y="0" font-family='"Liberation Serif", serif' font-size="10.0" fill="#262626" stroke="#262626" stroke-width="0.3" textLength="11.33" lengthAdjust="spacingAndGlyphs"><tspan font-style="normal" font-size="10.00">10</tspan></text></g>
<g transform="translate(213.10,69.30) rotate(0.000)"><text x="-0.61" y="0" font-family='"Liberation Serif", serif' font-size="7.4" fill="#262626" stroke="#262626" stroke-width="0.3" textLength="5.21" lengthAdjust="spacingAndGlyphs"><tspan font-style="normal" font-size="7.40">5</tspan></text></g>
<g transform="translate(202.70,101.40) rotate(0.000)"><text x="-1.00" y="0" font-family='"Liberation Serif", serif' font-size="10.0" fill="#262626" stroke="#262626" stroke-width="0.3" textLength="11.33" lengthAdjust="spacingAndGlyphs"><tspan font-style="normal" font-size="10.00">10</tspan></text></g>
<g transform="translate(214.30,98.30) rotate(0.000)"><text x="-0.62" y="0" font-family='"Liberation Serif", serif' font-size="7.4" fill="#262626" stroke="#262626" stroke-width="0.3" textLength="3.55" lengthAdjust="spacingAndGlyphs"><tspan font-style="normal" font-size="7.40">1</tspan></text></g>
<g transform="translate(225.30,108.60) rotate(0.000)"><text x="-0.53" y="0" font-family='"Liberation Sans", sans-serif' font-size="9.0" fill="#262626" stroke="#262626" stroke-width="0.38" textLength="3.96" lengthAdjust="spacingAndGlyphs"><tspan font-style="normal" font-size="9.00">-</tspan></text></g>
<g transform="translate(228.30,107.50) rotate(0.000)"><text x="-0.84" y="0" font-family='"Liberation Sans", sans-serif' font-size="9.4" fill="#262626" stroke="#262626" stroke-width="0.38" textLength="12.27" lengthAdjust="spacingAndGlyphs"><tspan font-style="normal" font-size="9.40">10</tspan></text></g>
<g transform="translate(239.70,104.00) rotate(0.000)"><text x="-0.41" y="0" font-family='"Liberation Sans", sans-serif' font-size="6.6" fill="#262626" stroke="#262626" stroke-width="0.38" textLength="5.21" lengthAdjust="spacingAndGlyphs"><tspan font-style="normal" font-size="6.60">8</tspan></text></g>
<g transform="translate(256.30,107.50) rotate(0.000)"><text x="-0.74" y="0" font-family='"Liberation Sans", sans-serif' font-size="9.4" fill="#262626" stroke="#262626" stroke-width="0.38" textLength="10.82" lengthAdjust="spacingAndGlyphs"><tspan font-style="normal" font-size="9.40">10</tspan></text></g>
<g transform="translate(266.40,104.00) rotate(0.000)"><text x="-0.41" y="0" font-family='"Liberation Sans", sans-serif' font-size="6.6" fill="#262626" stroke="#262626" stroke-width="0.38" textLength="5.21" lengthAdjust="spacingAndGlyphs"><tspan font-style="normal" font-size="6.60">8</tspan></text></g>
<g transform="translate(280.50,107.50) rotate(0.000)"><text x="-0.79" y="0" font-family='"Liberation Sans", sans-serif' font-size="9.4" fill="#262626" stroke="#262626" stroke-width="0.38" textLength="11.49" lengthAdjust="spacingAndGlyphs"><tspan font-style="normal" font-size="9.40">10</tspan></text></g>
<g transform="translate(291.20,104.00) rotate(0.000)"><text x="-0.70" y="0" font-family='"Liberation Sans", sans-serif' font-size="6.6" fill="#262626" stroke="#262626" stroke-width="0.38" textLength="10.26" lengthAdjust="spacingAndGlyphs"><tspan font-style="normal" font-size="6.60">10</tspan></text></g>
<g transform="translate(307.00,107.50) rotate(0.000)"><text x="-0.78" y="0" font-family='"Liberation Sans", sans-serif' font-size="9.4" fill="#262626" stroke="#262626" stroke-width="0.38" textLength="11.38" lengthAdjust="spacingAndGlyphs"><tspan font-style="normal" font-size="9.40">10</tspan></text></g>
<g transform="translate(317.60,104.00) rotate(0.000)"><text x="-0.73" y="0" font-family='"Liberation Sans", sans-serif' font-size="6.6" fill="#262626" stroke="#262626" stroke-width="0.38" textLength="10.61" lengthAdjust="spacingAndGlyphs"><tspan font-style="normal" font-size="6.60">12</tspan></text></g>
<line x1="59.80" y1="6.50" x2="342.30" y2="6.50" stroke="#6a6a6a" stroke-width="1.25" />
<line x1="59.80" y1="206.90" x2="342.30" y2="206.90" stroke="#6a6a6a" stroke-width="1.25" />
<line x1="59.80" y1="6.50" x2="59.80" y2="206.90" stroke="#6a6a6a" stroke-width="1.25" />
<line x1="342.30" y1="6.50" x2="342.30" y2="206.90" stroke="#6a6a6a" stroke-width="1.25" />
<line x1="57.20" y1="6.60" x2="59.80" y2="6.60" stroke="#6a6a6a" stroke-width="1.25" />
<text x="25.45" y="12.30" font-family='"Liberation Sans", sans-serif' font-size="16.0" fill="#1c1c1c" textLength="28.41" lengthAdjust="spacingAndGlyphs" class="t">250</text>
<line x1="57.20" y1="29.91" x2="59.80" y2="29.91" stroke="#6a6a6a" stroke-width="1.25" />
<text x="25.78" y="35.61" font-family='"Liberation Sans", sans-serif' font-size="16.0" fill="#1c1c1c" textLength="28.13" lengthAdjust="spacingAndGlyphs" class="t">225</text>
<line x1="57.20" y1="53.23" x2="59.80" y2="53.23" stroke="#6a6a6a" stroke-width="1.25" />
<text x="25.45" y="58.93" font-family='"Liberation Sans", sans-serif' font-size="16.0" fill="#1c1c1c" textLength="28.41" lengthAdjust="spacingAndGlyphs" class="t">200</text>
<line x1="57.20" y1="76.54" x2="59.80" y2="76.54" stroke="#6a6a6a" stroke-width="1.25" />
<text x="25.91" y="82.24" font-family='"Liberation Sans", sans-serif' font-size="16.0" fill="#1c1c1c" textLength="28.00" lengthAdjust="spacingAndGlyphs" class="t">175</text>
<line x1="57.20" y1="99.85" x2="59.80" y2="99.85" stroke="#6a6a6a" stroke-width="1.25" />
<text x="25.58" y="105.55" font-family='"Liberation Sans", sans-serif' font-size="16.0" fill="#1c1c1c" textLength="28.29" lengthAdjust="spacingAndGlyphs" class="t">150</text>
<line x1="57.20" y1="123.16" x2="59.80" y2="123.16" stroke="#6a6a6a" stroke-width="1.25" />
<text x="25.91" y="128.86" font-family='"Liberation Sans", sans-serif' font-size="16.0" fill="#1c1c1c" textLength="28.00" lengthAdjust="spacingAndGlyphs" class="t">125</text>
<line x1="57.20" y1="146.47" x2="59.80" y2="146.47" stroke="#6a6a6a" stroke-width="1.25" />
<text x="25.58" y="152.17" font-family='"Liberation Sans", sans-serif' font-size="16.0" fill="#1c1c1c" textLength="28.29" lengthAdjust="spacingAndGlyphs" class="t">100</text>
<line x1="57.20" y1="169.79" x2="59.80" y2="169.79" stroke="#6a6a6a" stroke-width="1.25" />
<text x="35.59" y="175.49" font-family='"Liberation Sans", sans-serif' font-size="16.0" fill="#1c1c1c" textLength="18.30" lengthAdjust="spacingAndGlyphs" class="t">75</text>
<line x1="57.20" y1="193.10" x2="59.80" y2="193.10" stroke="#6a6a6a" stroke-width="1.25" />
<text x="35.38" y="198.80" font-family='"Liberation Sans", sans-serif' font-size="16.0" fill="#1c1c1c" textLength="18.47" lengthAdjust="spacingAndGlyphs" class="t">50</text>
<line x1="93.90" y1="206.90" x2="93.90" y2="209.50" stroke="#6a6a6a" stroke-width="1.25" />
<text x="77.32" y="224.60" font-family='"Liberation Sans", sans-serif' font-size="16.0" fill="#1c1c1c" textLength="33.16" lengthAdjust="spacingAndGlyphs" class="t">0.50</text>
<line x1="131.50" y1="206.90" x2="131.50" y2="209.50" stroke="#6a6a6a" stroke-width="1.25" />
<text x="115.08" y="224.60" font-family='"Liberation Sans", sans-serif' font-size="16.0" fill="#1c1c1c" textLength="32.88" lengthAdjust="spacingAndGlyphs" class="t">0.75</text>
<line x1="169.10" y1="206.90" x2="169.10" y2="209.50" stroke="#6a6a6a" stroke-width="1.25" />
<text x="152.22" y="224.60" font-family='"Liberation Sans", sans-serif' font-size="16.0" fill="#1c1c1c" textLength="33.13" lengthAdjust="spacingAndGlyphs" class="t">1.00</text>
<line x1="206.70" y1="206.90" x2="206.70" y2="209.50" stroke="#6a6a6a" stroke-width="1.25" />
<text x="189.99" y="224.60" font-family='"Liberation Sans", sans-serif' font-size="16.0" fill="#1c1c1c" textLength="32.84" lengthAdjust="spacingAndGlyphs" class="t">1.25</text>
<line x1="244.30" y1="206.90" x2="244.30" y2="209.50" stroke="#6a6a6a" stroke-width="1.25" />
<text x="227.42" y="224.60" font-family='"Liberation Sans", sans-serif' font-size="16.0" fill="#1c1c1c" textLength="33.13" lengthAdjust="spacingAndGlyphs" class="t">1.50</text>
<line x1="281.90" y1="206.90" x2="281.90" y2="209.50" stroke="#6a6a6a" stroke-width="1.25" />
<text x="265.19" y="224.60" font-family='"Liberation Sans", sans-serif' font-size="16.0" fill="#1c1c1c" textLength="32.84" lengthAdjust="spacingAndGlyphs" class="t">1.75</text>
<line x1="319.50" y1="206.90" x2="319.50" y2="209.50" stroke="#6a6a6a" stroke-width="1.25" />
<text x="302.78" y="224.60" font-family='"Liberation Sans", sans-serif' font-size="16.0" fill="#1c1c1c" textLength="33.25" lengthAdjust="spacingAndGlyphs" class="t">2.00</text>
<text class="t" x="132.81" y="246.40" font-family='"Liberation Sans", sans-serif' font-size="17.4" font-style="italic" fill="#1c1c1c" textLength="9.79" lengthAdjust="spacingAndGlyphs">n</text>
<text class="t" x="148.34" y="246.40" font-family='"Liberation Sans", sans-serif' font-size="17.4" fill="#1c1c1c" textLength="5.31" lengthAdjust="spacingAndGlyphs">[</text>
<text class="t" x="155.10" y="246.40" font-family='"Liberation Sans", sans-serif' font-size="17.4" fill="#1c1c1c" textLength="12.20" lengthAdjust="spacingAndGlyphs">#</text>
<text class="t" x="167.80" y="246.40" font-family='"Liberation Sans", sans-serif' font-size="17.4" fill="#1c1c1c" textLength="5.40" lengthAdjust="spacingAndGlyphs">/</text>
<text class="t" x="173.25" y="246.40" font-family='"Liberation Sans", sans-serif' font-size="17.4" font-style="italic" fill="#1c1c1c" textLength="8.44" lengthAdjust="spacingAndGlyphs">c</text>
<text class="t" x="181.61" y="246.40" font-family='"Liberation Sans", sans-serif' font-size="17.4" font-style="italic" fill="#1c1c1c" textLength="19.58" lengthAdjust="spacingAndGlyphs">m</text>
<text class="t" x="202.01" y="239.80" font-family='"Liberation Sans", sans-serif' font-size="12.0" fill="#1c1c1c" textLength="10.58" lengthAdjust="spacingAndGlyphs">−</text>
<text class="t" x="212.19" y="239.80" font-family='"Liberation Sans", sans-serif' font-size="12.0" fill="#1c1c1c" textLength="6.71" lengthAdjust="spacingAndGlyphs">2</text>
<text class="t" x="219.90" y="246.40" font-family='"Liberation Sans", sans-serif' font-size="17.4" fill="#1c1c1c" textLength="5.50" lengthAdjust="spacingAndGlyphs">/</text>
<text class="t" x="226.45" y="246.40" font-family='"Liberation Sans", sans-serif' font-size="17.4" fill="#1c1c1c" textLength="8.38" lengthAdjust="spacingAndGlyphs">1</text>
<text class="t" x="236.28" y="246.40" font-family='"Liberation Sans", sans-serif' font-size="17.4" fill="#1c1c1c" textLength="8.84" lengthAdjust="spacingAndGlyphs">0</text>
<text class="t" x="245.82" y="239.80" font-family='"Liberation Sans", sans-serif' font-size="12.0" fill="#1c1c1c" textLength="6.45" lengthAdjust="spacingAndGlyphs">1</text>
<text class="t" x="251.99" y="239.80" font-family='"Liberation Sans", sans-serif' font-size="12.0" fill="#1c1c1c" textLength="10.32" lengthAdjust="spacingAndGlyphs">3</text>
<text class="t" x="264.05" y="246.40" font-family='"Liberation Sans", sans-serif' font-size="17.4" fill="#1c1c1c" textLength="5.45" lengthAdjust="spacingAndGlyphs">]</text>
<g transform="translate(16.00,144.50) rotate(-90)">
<text class="t" x="-0.41" y="0.00" font-family='"Liberation Sans", sans-serif' font-size="17.0" font-style="italic" fill="#1c1c1c" textLength="9.51" lengthAdjust="spacingAndGlyphs">R</text>
<text class="t" x="10.06" y="3.40" font-family='"Liberation Sans", sans-serif' font-size="12.0" font-style="italic" fill="#1c1c1c" textLength="8.38" lengthAdjust="spacingAndGlyphs">C</text>
<text class="t" x="24.30" y="0.00" font-family='"Liberation Sans", sans-serif' font-size="17.0" fill="#1c1c1c" textLength="5.45" lengthAdjust="spacingAndGlyphs">[</text>
<text class="t" x="31.37" y="0.00" font-family='"Liberation Sans", sans-serif' font-size="17.0" fill="#1c1c1c" textLength="11.06" lengthAdjust="spacingAndGlyphs">Ω</text>
<text class="t" x="44.22" y="0.00" font-family='"Liberation Sans", sans-serif' font-size="17.0" font-style="italic" fill="#1c1c1c" textLength="11.00" lengthAdjust="spacingAndGlyphs">μ</text>
<text class="t" x="56.10" y="0.00" font-family='"Liberation Sans", sans-serif' font-size="17.0" font-style="italic" fill="#1c1c1c" textLength="15.15" lengthAdjust="spacingAndGlyphs">m</text>
<text class="t" x="72.65" y="0.00" font-family='"Liberation Sans", sans-serif' font-size="17.0" fill="#1c1c1c" textLength="5.45" lengthAdjust="spacingAndGlyphs">]</text>
</g>
<text x="0.68" y="17.80" font-family='"Liberation Serif", serif' font-size="19.0" fill="#141414" textLength="23.13" lengthAdjust="spacingAndGlyphs" >(a)</text>
<line x1="406.10" y1="6.30" x2="683.90" y2="6.30" stroke="#6a6a6a" stroke-width="1.25" />
<line x1="406.10" y1="207.80" x2="683.90" y2="207.80" stroke="#6a6a6a" stroke-width="1.25" />
<line x1="406.10" y1="6.30" x2="406.10" y2="207.80" stroke="#6a6a6a" stroke-width="1.25" />
<line x1="683.90" y1="6.30" x2="683.90" y2="207.80" stroke="#6a6a6a" stroke-width="1.25" />
<line x1="403.50" y1="23.30" x2="406.10" y2="23.30" stroke="#6a6a6a" stroke-width="1.25" />
<text x="370.99" y="29.00" font-family='"Liberation Sans", sans-serif' font-size="16.0" fill="#1c1c1c" textLength="28.17" lengthAdjust="spacingAndGlyphs" class="t">500</text>
<line x1="403.50" y1="61.90" x2="406.10" y2="61.90" stroke="#6a6a6a" stroke-width="1.25" />
<text x="370.85" y="67.60" font-family='"Liberation Sans", sans-serif' font-size="16.0" fill="#1c1c1c" textLength="28.31" lengthAdjust="spacingAndGlyphs" class="t">400</text>
<line x1="403.50" y1="100.50" x2="406.10" y2="100.50" stroke="#6a6a6a" stroke-width="1.25" />
<text x="371.01" y="106.20" font-family='"Liberation Sans", sans-serif' font-size="16.0" fill="#1c1c1c" textLength="28.15" lengthAdjust="spacingAndGlyphs" class="t">300</text>
<line x1="403.50" y1="139.10" x2="406.10" y2="139.10" stroke="#6a6a6a" stroke-width="1.25" />
<text x="370.75" y="144.80" font-family='"Liberation Sans", sans-serif' font-size="16.0" fill="#1c1c1c" textLength="28.41" lengthAdjust="spacingAndGlyphs" class="t">200</text>
<line x1="403.50" y1="177.70" x2="406.10" y2="177.70" stroke="#6a6a6a" stroke-width="1.25" />
<text x="370.88" y="183.40" font-family='"Liberation Sans", sans-serif' font-size="16.0" fill="#1c1c1c" textLength="28.29" lengthAdjust="spacingAndGlyphs" class="t">100</text>
<line x1="437.70" y1="207.80" x2="437.70" y2="210.40" stroke="#6a6a6a" stroke-width="1.25" />
<text x="425.94" y="225.20" font-family='"Liberation Sans", sans-serif' font-size="16.0" fill="#1c1c1c" textLength="23.08" lengthAdjust="spacingAndGlyphs" class="t">1.2</text>
<line x1="488.70" y1="207.80" x2="488.70" y2="210.40" stroke="#6a6a6a" stroke-width="1.25" />
<text x="476.59" y="225.20" font-family='"Liberation Sans", sans-serif' font-size="16.0" fill="#1c1c1c" textLength="23.43" lengthAdjust="spacingAndGlyphs" class="t">1.4</text>
<line x1="539.70" y1="207.80" x2="539.70" y2="210.40" stroke="#6a6a6a" stroke-width="1.25" />
<text x="527.63" y="225.20" font-family='"Liberation Sans", sans-serif' font-size="16.0" fill="#1c1c1c" textLength="23.58" lengthAdjust="spacingAndGlyphs" class="t">1.6</text>
<line x1="590.70" y1="207.80" x2="590.70" y2="210.40" stroke="#6a6a6a" stroke-width="1.25" />
<text x="578.68" y="225.20" font-family='"Liberation Sans", sans-serif' font-size="16.0" fill="#1c1c1c" textLength="23.49" lengthAdjust="spacingAndGlyphs" class="t">1.8</text>
<line x1="641.70" y1="207.80" x2="641.70" y2="210.40" stroke="#6a6a6a" stroke-width="1.25" />
<text x="629.82" y="225.20" font-family='"Liberation Sans", sans-serif' font-size="16.0" fill="#1c1c1c" textLength="23.57" lengthAdjust="spacingAndGlyphs" class="t">2.0</text>
<text class="t" x="477.21" y="247.30" font-family='"Liberation Sans", sans-serif' font-size="17.4" font-style="italic" fill="#1c1c1c" textLength="9.79" lengthAdjust="spacingAndGlyphs">n</text>
<text class="t" x="492.74" y="247.30" font-family='"Liberation Sans", sans-serif' font-size="17.4" fill="#1c1c1c" textLength="5.31" lengthAdjust="spacingAndGlyphs">[</text>
<text class="t" x="499.50" y="247.30" font-family='"Liberation Sans", sans-serif' font-size="17.4" fill="#1c1c1c" textLength="12.20" lengthAdjust="spacingAndGlyphs">#</text>
<text class="t" x="512.20" y="247.30" font-family='"Liberation Sans", sans-serif' font-size="17.4" fill="#1c1c1c" textLength="5.40" lengthAdjust="spacingAndGlyphs">/</text>
<text class="t" x="517.65" y="247.30" font-family='"Liberation Sans", sans-serif' font-size="17.4" font-style="italic" fill="#1c1c1c" textLength="8.44" lengthAdjust="spacingAndGlyphs">c</text>
<text class="t" x="526.01" y="247.30" font-family='"Liberation Sans", sans-serif' font-size="17.4" font-style="italic" fill="#1c1c1c" textLength="19.58" lengthAdjust="spacingAndGlyphs">m</text>
<text class="t" x="546.41" y="240.70" font-family='"Liberation Sans", sans-serif' font-size="12.0" fill="#1c1c1c" textLength="10.58" lengthAdjust="spacingAndGlyphs">−</text>
<text class="t" x="556.59" y="240.70" font-family='"Liberation Sans", sans-serif' font-size="12.0" fill="#1c1c1c" textLength="6.71" lengthAdjust="spacingAndGlyphs">2</text>
<text class="t" x="564.30" y="247.30" font-family='"Liberation Sans", sans-serif' font-size="17.4" fill="#1c1c1c" textLength="5.50" lengthAdjust="spacingAndGlyphs">/</text>
<text class="t" x="570.85" y="247.30" font-family='"Liberation Sans", sans-serif' font-size="17.4" fill="#1c1c1c" textLength="8.38" lengthAdjust="spacingAndGlyphs">1</text>
<text class="t" x="580.68" y="247.30" font-family='"Liberation Sans", sans-serif' font-size="17.4" fill="#1c1c1c" textLength="8.84" lengthAdjust="spacingAndGlyphs">0</text>
<text class="t" x="590.22" y="240.70" font-family='"Liberation Sans", sans-serif' font-size="12.0" fill="#1c1c1c" textLength="6.45" lengthAdjust="spacingAndGlyphs">1</text>
<text class="t" x="596.39" y="240.70" font-family='"Liberation Sans", sans-serif' font-size="12.0" fill="#1c1c1c" textLength="10.32" lengthAdjust="spacingAndGlyphs">3</text>
<text class="t" x="608.45" y="247.30" font-family='"Liberation Sans", sans-serif' font-size="17.4" fill="#1c1c1c" textLength="5.45" lengthAdjust="spacingAndGlyphs">]</text>
<g transform="translate(362.30,144.20) rotate(-90)">
<text class="t" x="-0.41" y="0.00" font-family='"Liberation Sans", sans-serif' font-size="17.0" font-style="italic" fill="#1c1c1c" textLength="9.51" lengthAdjust="spacingAndGlyphs">R</text>
<text class="t" x="10.06" y="3.40" font-family='"Liberation Sans", sans-serif' font-size="12.0" font-style="italic" fill="#1c1c1c" textLength="8.38" lengthAdjust="spacingAndGlyphs">C</text>
<text class="t" x="24.30" y="0.00" font-family='"Liberation Sans", sans-serif' font-size="17.0" fill="#1c1c1c" textLength="5.45" lengthAdjust="spacingAndGlyphs">[</text>
<text class="t" x="31.37" y="0.00" font-family='"Liberation Sans", sans-serif' font-size="17.0" fill="#1c1c1c" textLength="11.06" lengthAdjust="spacingAndGlyphs">Ω</text>
<text class="t" x="44.22" y="0.00" font-family='"Liberation Sans", sans-serif' font-size="17.0" font-style="italic" fill="#1c1c1c" textLength="11.00" lengthAdjust="spacingAndGlyphs">μ</text>
<text class="t" x="56.10" y="0.00" font-family='"Liberation Sans", sans-serif' font-size="17.0" font-style="italic" fill="#1c1c1c" textLength="15.15" lengthAdjust="spacingAndGlyphs">m</text>
<text class="t" x="72.65" y="0.00" font-family='"Liberation Sans", sans-serif' font-size="17.0" fill="#1c1c1c" textLength="5.45" lengthAdjust="spacingAndGlyphs">]</text>
</g>
<text x="347.48" y="17.80" font-family='"Liberation Serif", serif' font-size="19.0" fill="#141414" textLength="24.44" lengthAdjust="spacingAndGlyphs" >(b)</text>
<line x1="64.70" y1="252.70" x2="342.30" y2="252.70" stroke="#6a6a6a" stroke-width="1.25" />
<line x1="64.70" y1="454.80" x2="342.30" y2="454.80" stroke="#6a6a6a" stroke-width="1.25" />
<line x1="64.70" y1="252.70" x2="64.70" y2="454.80" stroke="#6a6a6a" stroke-width="1.25" />
<line x1="342.30" y1="252.70" x2="342.30" y2="454.80" stroke="#6a6a6a" stroke-width="1.25" />
<line x1="62.10" y1="274.80" x2="64.70" y2="274.80" stroke="#6a6a6a" stroke-width="1.25" />
<text x="30.01" y="281.10" font-family='"Liberation Sans", sans-serif' font-size="16.0" fill="#1c1c1c" textLength="28.15" lengthAdjust="spacingAndGlyphs" class="t">300</text>
<line x1="62.10" y1="309.73" x2="64.70" y2="309.73" stroke="#6a6a6a" stroke-width="1.25" />
<text x="29.75" y="316.03" font-family='"Liberation Sans", sans-serif' font-size="16.0" fill="#1c1c1c" textLength="28.41" lengthAdjust="spacingAndGlyphs" class="t">250</text>
<line x1="62.10" y1="344.65" x2="64.70" y2="344.65" stroke="#6a6a6a" stroke-width="1.25" />
<text x="29.75" y="350.95" font-family='"Liberation Sans", sans-serif' font-size="16.0" fill="#1c1c1c" textLength="28.41" lengthAdjust="spacingAndGlyphs" class="t">200</text>
<line x1="62.10" y1="379.58" x2="64.70" y2="379.58" stroke="#6a6a6a" stroke-width="1.25" />
<text x="29.88" y="385.88" font-family='"Liberation Sans", sans-serif' font-size="16.0" fill="#1c1c1c" textLength="28.29" lengthAdjust="spacingAndGlyphs" class="t">150</text>
<line x1="62.10" y1="414.50" x2="64.70" y2="414.50" stroke="#6a6a6a" stroke-width="1.25" />
<text x="29.88" y="420.80" font-family='"Liberation Sans", sans-serif' font-size="16.0" fill="#1c1c1c" textLength="28.29" lengthAdjust="spacingAndGlyphs" class="t">100</text>
<line x1="62.10" y1="449.43" x2="64.70" y2="449.43" stroke="#6a6a6a" stroke-width="1.25" />
<text x="39.68" y="455.73" font-family='"Liberation Sans", sans-serif' font-size="16.0" fill="#1c1c1c" textLength="18.47" lengthAdjust="spacingAndGlyphs" class="t">50</text>
<line x1="85.90" y1="454.80" x2="85.90" y2="457.40" stroke="#6a6a6a" stroke-width="1.25" />
<text x="69.48" y="472.40" font-family='"Liberation Sans", sans-serif' font-size="16.0" fill="#1c1c1c" textLength="32.88" lengthAdjust="spacingAndGlyphs" class="t">0.25</text>
<line x1="124.18" y1="454.80" x2="124.18" y2="457.40" stroke="#6a6a6a" stroke-width="1.25" />
<text x="107.59" y="472.40" font-family='"Liberation Sans", sans-serif' font-size="16.0" fill="#1c1c1c" textLength="33.16" lengthAdjust="spacingAndGlyphs" class="t">0.50</text>
<line x1="162.45" y1="454.80" x2="162.45" y2="457.40" stroke="#6a6a6a" stroke-width="1.25" />
<text x="146.03" y="472.40" font-family='"Liberation Sans", sans-serif' font-size="16.0" fill="#1c1c1c" textLength="32.88" lengthAdjust="spacingAndGlyphs" class="t">0.75</text>
<line x1="200.72" y1="454.80" x2="200.72" y2="457.40" stroke="#6a6a6a" stroke-width="1.25" />
<text x="183.85" y="472.40" font-family='"Liberation Sans", sans-serif' font-size="16.0" fill="#1c1c1c" textLength="33.13" lengthAdjust="spacingAndGlyphs" class="t">1.00</text>
<line x1="239.00" y1="454.80" x2="239.00" y2="457.40" stroke="#6a6a6a" stroke-width="1.25" />
<text x="222.29" y="472.40" font-family='"Liberation Sans", sans-serif' font-size="16.0" fill="#1c1c1c" textLength="32.84" lengthAdjust="spacingAndGlyphs" class="t">1.25</text>
<line x1="277.27" y1="454.80" x2="277.27" y2="457.40" stroke="#6a6a6a" stroke-width="1.25" />
<text x="260.40" y="472.40" font-family='"Liberation Sans", sans-serif' font-size="16.0" fill="#1c1c1c" textLength="33.13" lengthAdjust="spacingAndGlyphs" class="t">1.50</text>
<line x1="315.55" y1="454.80" x2="315.55" y2="457.40" stroke="#6a6a6a" stroke-width="1.25" />
<text x="298.84" y="472.40" font-family='"Liberation Sans", sans-serif' font-size="16.0" fill="#1c1c1c" textLength="32.84" lengthAdjust="spacingAndGlyphs" class="t">1.75</text>
<text class="t" x="136.21" y="493.70" font-family='"Liberation Sans", sans-serif' font-size="17.4" font-style="italic" fill="#1c1c1c" textLength="9.79" lengthAdjust="spacingAndGlyphs">n</text>
<text class="t" x="151.74" y="493.70" font-family='"Liberation Sans", sans-serif' font-size="17.4" fill="#1c1c1c" textLength="5.31" lengthAdjust="spacingAndGlyphs">[</text>
<text class="t" x="158.50" y="493.70" font-family='"Liberation Sans", sans-serif' font-size="17.4" fill="#1c1c1c" textLength="12.20" lengthAdjust="spacingAndGlyphs">#</text>
<text class="t" x="171.20" y="493.70" font-family='"Liberation Sans", sans-serif' font-size="17.4" fill="#1c1c1c" textLength="5.40" lengthAdjust="spacingAndGlyphs">/</text>
<text class="t" x="176.65" y="493.70" font-family='"Liberation Sans", sans-serif' font-size="17.4" font-style="italic" fill="#1c1c1c" textLength="8.44" lengthAdjust="spacingAndGlyphs">c</text>
<text class="t" x="185.01" y="493.70" font-family='"Liberation Sans", sans-serif' font-size="17.4" font-style="italic" fill="#1c1c1c" textLength="19.58" lengthAdjust="spacingAndGlyphs">m</text>
<text class="t" x="205.41" y="487.10" font-family='"Liberation Sans", sans-serif' font-size="12.0" fill="#1c1c1c" textLength="10.58" lengthAdjust="spacingAndGlyphs">−</text>
<text class="t" x="215.59" y="487.10" font-family='"Liberation Sans", sans-serif' font-size="12.0" fill="#1c1c1c" textLength="6.71" lengthAdjust="spacingAndGlyphs">2</text>
<text class="t" x="223.30" y="493.70" font-family='"Liberation Sans", sans-serif' font-size="17.4" fill="#1c1c1c" textLength="5.50" lengthAdjust="spacingAndGlyphs">/</text>
<text class="t" x="229.85" y="493.70" font-family='"Liberation Sans", sans-serif' font-size="17.4" fill="#1c1c1c" textLength="8.38" lengthAdjust="spacingAndGlyphs">1</text>
<text class="t" x="239.68" y="493.70" font-family='"Liberation Sans", sans-serif' font-size="17.4" fill="#1c1c1c" textLength="8.84" lengthAdjust="spacingAndGlyphs">0</text>
<text class="t" x="249.22" y="487.10" font-family='"Liberation Sans", sans-serif' font-size="12.0" fill="#1c1c1c" textLength="6.45" lengthAdjust="spacingAndGlyphs">1</text>
<text class="t" x="255.39" y="487.10" font-family='"Liberation Sans", sans-serif' font-size="12.0" fill="#1c1c1c" textLength="10.32" lengthAdjust="spacingAndGlyphs">3</text>
<text class="t" x="267.45" y="493.70" font-family='"Liberation Sans", sans-serif' font-size="17.4" fill="#1c1c1c" textLength="5.45" lengthAdjust="spacingAndGlyphs">]</text>
<g transform="translate(20.00,392.00) rotate(-90)">
<text class="t" x="-0.41" y="0.00" font-family='"Liberation Sans", sans-serif' font-size="17.0" font-style="italic" fill="#1c1c1c" textLength="9.51" lengthAdjust="spacingAndGlyphs">R</text>
<text class="t" x="10.06" y="3.40" font-family='"Liberation Sans", sans-serif' font-size="12.0" font-style="italic" fill="#1c1c1c" textLength="8.38" lengthAdjust="spacingAndGlyphs">C</text>
<text class="t" x="24.30" y="0.00" font-family='"Liberation Sans", sans-serif' font-size="17.0" fill="#1c1c1c" textLength="5.45" lengthAdjust="spacingAndGlyphs">[</text>
<text class="t" x="31.37" y="0.00" font-family='"Liberation Sans", sans-serif' font-size="17.0" fill="#1c1c1c" textLength="11.06" lengthAdjust="spacingAndGlyphs">Ω</text>
<text class="t" x="44.22" y="0.00" font-family='"Liberation Sans", sans-serif' font-size="17.0" font-style="italic" fill="#1c1c1c" textLength="11.00" lengthAdjust="spacingAndGlyphs">μ</text>
<text class="t" x="56.10" y="0.00" font-family='"Liberation Sans", sans-serif' font-size="17.0" font-style="italic" fill="#1c1c1c" textLength="15.15" lengthAdjust="spacingAndGlyphs">m</text>
<text class="t" x="72.65" y="0.00" font-family='"Liberation Sans", sans-serif' font-size="17.0" fill="#1c1c1c" textLength="5.45" lengthAdjust="spacingAndGlyphs">]</text>
</g>
<text x="-0.09" y="272.60" font-family='"Liberation Serif", serif' font-size="19.0" fill="#141414" textLength="22.48" lengthAdjust="spacingAndGlyphs" >(c)</text>
<line x1="405.80" y1="253.30" x2="682.00" y2="253.30" stroke="#6a6a6a" stroke-width="1.25" />
<line x1="405.80" y1="452.10" x2="682.00" y2="452.10" stroke="#6a6a6a" stroke-width="1.25" />
<line x1="405.80" y1="253.30" x2="405.80" y2="452.10" stroke="#6a6a6a" stroke-width="1.25" />
<line x1="682.00" y1="253.30" x2="682.00" y2="452.10" stroke="#6a6a6a" stroke-width="1.25" />
<line x1="403.20" y1="256.00" x2="405.80" y2="256.00" stroke="#6a6a6a" stroke-width="1.25" />
<text x="372.05" y="262.30" font-family='"Liberation Sans", sans-serif' font-size="16.0" fill="#1c1c1c" textLength="28.41" lengthAdjust="spacingAndGlyphs" class="t">220</text>
<line x1="403.20" y1="278.35" x2="405.80" y2="278.35" stroke="#6a6a6a" stroke-width="1.25" />
<text x="372.05" y="284.65" font-family='"Liberation Sans", sans-serif' font-size="16.0" fill="#1c1c1c" textLength="28.41" lengthAdjust="spacingAndGlyphs" class="t">200</text>
<line x1="403.20" y1="300.70" x2="405.80" y2="300.70" stroke="#6a6a6a" stroke-width="1.25" />
<text x="372.18" y="307.00" font-family='"Liberation Sans", sans-serif' font-size="16.0" fill="#1c1c1c" textLength="28.29" lengthAdjust="spacingAndGlyphs" class="t">180</text>
<line x1="403.20" y1="323.05" x2="405.80" y2="323.05" stroke="#6a6a6a" stroke-width="1.25" />
<text x="372.18" y="329.35" font-family='"Liberation Sans", sans-serif' font-size="16.0" fill="#1c1c1c" textLength="28.29" lengthAdjust="spacingAndGlyphs" class="t">160</text>
<line x1="403.20" y1="345.40" x2="405.80" y2="345.40" stroke="#6a6a6a" stroke-width="1.25" />
<text x="372.18" y="351.70" font-family='"Liberation Sans", sans-serif' font-size="16.0" fill="#1c1c1c" textLength="28.29" lengthAdjust="spacingAndGlyphs" class="t">140</text>
<line x1="403.20" y1="367.75" x2="405.80" y2="367.75" stroke="#6a6a6a" stroke-width="1.25" />
<text x="372.18" y="374.05" font-family='"Liberation Sans", sans-serif' font-size="16.0" fill="#1c1c1c" textLength="28.29" lengthAdjust="spacingAndGlyphs" class="t">120</text>
<line x1="403.20" y1="390.10" x2="405.80" y2="390.10" stroke="#6a6a6a" stroke-width="1.25" />
<text x="372.18" y="396.40" font-family='"Liberation Sans", sans-serif' font-size="16.0" fill="#1c1c1c" textLength="28.29" lengthAdjust="spacingAndGlyphs" class="t">100</text>
<line x1="403.20" y1="412.45" x2="405.80" y2="412.45" stroke="#6a6a6a" stroke-width="1.25" />
<text x="381.77" y="418.75" font-family='"Liberation Sans", sans-serif' font-size="16.0" fill="#1c1c1c" textLength="18.69" lengthAdjust="spacingAndGlyphs" class="t">80</text>
<line x1="403.20" y1="434.80" x2="405.80" y2="434.80" stroke="#6a6a6a" stroke-width="1.25" />
<text x="381.67" y="441.10" font-family='"Liberation Sans", sans-serif' font-size="16.0" fill="#1c1c1c" textLength="18.79" lengthAdjust="spacingAndGlyphs" class="t">60</text>
<line x1="421.70" y1="452.10" x2="421.70" y2="454.70" stroke="#6a6a6a" stroke-width="1.25" />
<text x="409.67" y="470.00" font-family='"Liberation Sans", sans-serif' font-size="16.0" fill="#1c1c1c" textLength="23.44" lengthAdjust="spacingAndGlyphs" class="t">1.0</text>
<line x1="480.60" y1="452.10" x2="480.60" y2="454.70" stroke="#6a6a6a" stroke-width="1.25" />
<text x="468.84" y="470.00" font-family='"Liberation Sans", sans-serif' font-size="16.0" fill="#1c1c1c" textLength="23.08" lengthAdjust="spacingAndGlyphs" class="t">1.2</text>
<line x1="539.50" y1="452.10" x2="539.50" y2="454.70" stroke="#6a6a6a" stroke-width="1.25" />
<text x="527.39" y="470.00" font-family='"Liberation Sans", sans-serif' font-size="16.0" fill="#1c1c1c" textLength="23.43" lengthAdjust="spacingAndGlyphs" class="t">1.4</text>
<line x1="598.40" y1="452.10" x2="598.40" y2="454.70" stroke="#6a6a6a" stroke-width="1.25" />
<text x="586.33" y="470.00" font-family='"Liberation Sans", sans-serif' font-size="16.0" fill="#1c1c1c" textLength="23.58" lengthAdjust="spacingAndGlyphs" class="t">1.6</text>
<line x1="657.30" y1="452.10" x2="657.30" y2="454.70" stroke="#6a6a6a" stroke-width="1.25" />
<text x="645.28" y="470.00" font-family='"Liberation Sans", sans-serif' font-size="16.0" fill="#1c1c1c" textLength="23.49" lengthAdjust="spacingAndGlyphs" class="t">1.8</text>
<text class="t" x="477.81" y="491.00" font-family='"Liberation Sans", sans-serif' font-size="17.4" font-style="italic" fill="#1c1c1c" textLength="9.79" lengthAdjust="spacingAndGlyphs">n</text>
<text class="t" x="493.34" y="491.00" font-family='"Liberation Sans", sans-serif' font-size="17.4" fill="#1c1c1c" textLength="5.31" lengthAdjust="spacingAndGlyphs">[</text>
<text class="t" x="500.10" y="491.00" font-family='"Liberation Sans", sans-serif' font-size="17.4" fill="#1c1c1c" textLength="12.20" lengthAdjust="spacingAndGlyphs">#</text>
<text class="t" x="512.80" y="491.00" font-family='"Liberation Sans", sans-serif' font-size="17.4" fill="#1c1c1c" textLength="5.40" lengthAdjust="spacingAndGlyphs">/</text>
<text class="t" x="518.25" y="491.00" font-family='"Liberation Sans", sans-serif' font-size="17.4" font-style="italic" fill="#1c1c1c" textLength="8.44" lengthAdjust="spacingAndGlyphs">c</text>
<text class="t" x="526.61" y="491.00" font-family='"Liberation Sans", sans-serif' font-size="17.4" font-style="italic" fill="#1c1c1c" textLength="19.58" lengthAdjust="spacingAndGlyphs">m</text>
<text class="t" x="547.01" y="484.40" font-family='"Liberation Sans", sans-serif' font-size="12.0" fill="#1c1c1c" textLength="10.58" lengthAdjust="spacingAndGlyphs">−</text>
<text class="t" x="557.19" y="484.40" font-family='"Liberation Sans", sans-serif' font-size="12.0" fill="#1c1c1c" textLength="6.71" lengthAdjust="spacingAndGlyphs">2</text>
<text class="t" x="564.90" y="491.00" font-family='"Liberation Sans", sans-serif' font-size="17.4" fill="#1c1c1c" textLength="5.50" lengthAdjust="spacingAndGlyphs">/</text>
<text class="t" x="571.45" y="491.00" font-family='"Liberation Sans", sans-serif' font-size="17.4" fill="#1c1c1c" textLength="8.38" lengthAdjust="spacingAndGlyphs">1</text>
<text class="t" x="581.28" y="491.00" font-family='"Liberation Sans", sans-serif' font-size="17.4" fill="#1c1c1c" textLength="8.84" lengthAdjust="spacingAndGlyphs">0</text>
<text class="t" x="590.82" y="484.40" font-family='"Liberation Sans", sans-serif' font-size="12.0" fill="#1c1c1c" textLength="6.45" lengthAdjust="spacingAndGlyphs">1</text>
<text class="t" x="596.99" y="484.40" font-family='"Liberation Sans", sans-serif' font-size="12.0" fill="#1c1c1c" textLength="10.32" lengthAdjust="spacingAndGlyphs">3</text>
<text class="t" x="609.05" y="491.00" font-family='"Liberation Sans", sans-serif' font-size="17.4" fill="#1c1c1c" textLength="5.45" lengthAdjust="spacingAndGlyphs">]</text>
<g transform="translate(362.00,391.00) rotate(-90)">
<text class="t" x="-0.41" y="0.00" font-family='"Liberation Sans", sans-serif' font-size="17.0" font-style="italic" fill="#1c1c1c" textLength="9.51" lengthAdjust="spacingAndGlyphs">R</text>
<text class="t" x="10.06" y="3.40" font-family='"Liberation Sans", sans-serif' font-size="12.0" font-style="italic" fill="#1c1c1c" textLength="8.38" lengthAdjust="spacingAndGlyphs">C</text>
<text class="t" x="24.30" y="0.00" font-family='"Liberation Sans", sans-serif' font-size="17.0" fill="#1c1c1c" textLength="5.45" lengthAdjust="spacingAndGlyphs">[</text>
<text class="t" x="31.37" y="0.00" font-family='"Liberation Sans", sans-serif' font-size="17.0" fill="#1c1c1c" textLength="11.06" lengthAdjust="spacingAndGlyphs">Ω</text>
<text class="t" x="44.22" y="0.00" font-family='"Liberation Sans", sans-serif' font-size="17.0" font-style="italic" fill="#1c1c1c" textLength="11.00" lengthAdjust="spacingAndGlyphs">μ</text>
<text class="t" x="56.10" y="0.00" font-family='"Liberation Sans", sans-serif' font-size="17.0" font-style="italic" fill="#1c1c1c" textLength="15.15" lengthAdjust="spacingAndGlyphs">m</text>
<text class="t" x="72.65" y="0.00" font-family='"Liberation Sans", sans-serif' font-size="17.0" fill="#1c1c1c" textLength="5.45" lengthAdjust="spacingAndGlyphs">]</text>
</g>
<text x="347.60" y="272.60" font-family='"Liberation Serif", serif' font-size="19.0" fill="#141414" textLength="23.79" lengthAdjust="spacingAndGlyphs" >(d)</text>
</g>
</svg>
</body></html>
